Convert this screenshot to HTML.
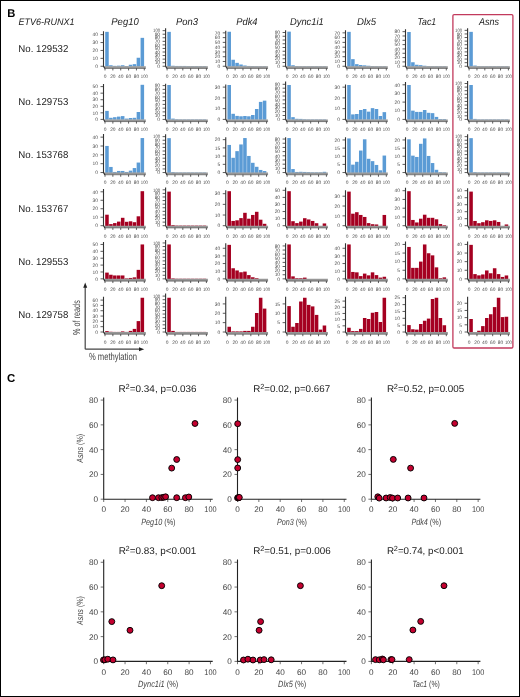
<!DOCTYPE html><html><head><meta charset="utf-8"><style>html,body{margin:0;padding:0;background:#fff;}svg{display:block;will-change:transform;}</style></head><body><svg width="520" height="697" viewBox="0 0 520 697" font-family="&quot;Liberation Sans&quot;, sans-serif" text-rendering="geometricPrecision">
<rect x="0" y="0" width="520" height="697" fill="#fff"/>
<rect x="0.5" y="0.5" width="519" height="696" fill="none" stroke="#000" stroke-width="1"/>
<text x="7.3" y="17" font-size="11.2" font-weight="bold" fill="#000">B</text>
<text x="18.6" y="25" font-size="9.3" font-style="italic" fill="#222" textLength="56" lengthAdjust="spacingAndGlyphs">ETV6-RUNX1</text>
<text x="111.3" y="25" font-size="10" font-style="italic" fill="#222" textLength="27.4" lengthAdjust="spacingAndGlyphs">Peg10</text>
<text x="176" y="25" font-size="10" font-style="italic" fill="#222" textLength="22" lengthAdjust="spacingAndGlyphs">Pon3</text>
<text x="236.3" y="25" font-size="10" font-style="italic" fill="#222" textLength="21.2" lengthAdjust="spacingAndGlyphs">Pdk4</text>
<text x="290" y="25" font-size="10" font-style="italic" fill="#222" textLength="33.7" lengthAdjust="spacingAndGlyphs">Dync1i1</text>
<text x="357" y="25" font-size="10" font-style="italic" fill="#222" textLength="19.2" lengthAdjust="spacingAndGlyphs">Dlx5</text>
<text x="417.5" y="25" font-size="10" font-style="italic" fill="#222" textLength="18.7" lengthAdjust="spacingAndGlyphs">Tac1</text>
<text x="479" y="25" font-size="10" font-style="italic" fill="#222" textLength="20" lengthAdjust="spacingAndGlyphs">Asns</text>
<text x="18.3" y="52.05" font-size="10" fill="#222" textLength="50" lengthAdjust="spacingAndGlyphs">No. 129532</text>
<text x="18.3" y="105.2" font-size="10" fill="#222" textLength="50" lengthAdjust="spacingAndGlyphs">No. 129753</text>
<text x="18.3" y="158.35" font-size="10" fill="#222" textLength="50" lengthAdjust="spacingAndGlyphs">No. 153768</text>
<text x="18.3" y="211.5" font-size="10" fill="#222" textLength="50" lengthAdjust="spacingAndGlyphs">No. 153767</text>
<text x="18.3" y="264.65" font-size="10" fill="#222" textLength="50" lengthAdjust="spacingAndGlyphs">No. 129553</text>
<text x="18.3" y="317.8" font-size="10" fill="#222" textLength="50" lengthAdjust="spacingAndGlyphs">No. 129758</text>
<g fill="#5b9bd5"><rect x="105.2" y="31.85" width="3.53" height="34.7"/><rect x="109.13" y="65.25" width="3.53" height="1.3"/><rect x="113.06" y="65.85" width="3.53" height="0.7"/><rect x="116.99" y="65.65" width="3.53" height="0.9"/><rect x="120.92" y="65.25" width="3.53" height="1.3"/><rect x="124.85" y="66" width="3.53" height="0.55"/><rect x="128.78" y="64.75" width="3.53" height="1.8"/><rect x="132.71" y="64.15" width="3.53" height="2.4"/><rect x="136.64" y="57.75" width="3.53" height="8.8"/><rect x="140.57" y="37.85" width="3.53" height="28.7"/></g>
<path d="M103.5 66.25L145.8 66.25L145.8 68.55L104.7 68.55Z" fill="#979797"/>
<path d="M104.7 68.45H145.8" stroke="#5e5e5e" stroke-width="0.7"/>
<path d="M103.5 31.25V66.25L104.9 68.55" fill="none" stroke="#333" stroke-width="1.1"/>
<path d="M100.5 66.25H103.5M100.5 58.35H103.5M100.5 50.45H103.5M100.5 42.55H103.5M100.5 34.65H103.5M105 68.35V70.45M112.86 68.35V70.45M120.72 68.35V70.45M128.58 68.35V70.45M136.44 68.35V70.45M144.3 68.35V70.45" stroke="#333" stroke-width="0.8"/>
<g font-size="4.9" fill="#4a4a4a" text-anchor="end" transform="scale(1.0 1)"><text x="98" y="67.95">0</text><text x="98" y="60.05">10</text><text x="98" y="52.15">20</text><text x="98" y="44.25">30</text><text x="98" y="36.35">40</text><text x="105" y="78.05" text-anchor="middle">0</text><text x="112.86" y="78.05" text-anchor="middle">20</text><text x="120.72" y="78.05" text-anchor="middle">40</text><text x="128.58" y="78.05" text-anchor="middle">60</text><text x="136.44" y="78.05" text-anchor="middle">80</text><text x="144.3" y="78.05" text-anchor="middle" textLength="7" lengthAdjust="spacingAndGlyphs">100</text></g>
<g fill="#5b9bd5"><rect x="167.3" y="31.85" width="3.53" height="34.7"/><rect x="171.23" y="65.75" width="3.53" height="0.8"/><rect x="175.16" y="65.95" width="3.53" height="0.6"/><rect x="179.09" y="65.95" width="3.53" height="0.6"/><rect x="183.02" y="65.95" width="3.53" height="0.6"/><rect x="186.95" y="66.05" width="3.53" height="0.5"/><rect x="190.88" y="66.05" width="3.53" height="0.5"/><rect x="194.81" y="66.05" width="3.53" height="0.5"/><rect x="198.74" y="66.05" width="3.53" height="0.5"/><rect x="202.67" y="66.05" width="3.53" height="0.5"/></g>
<path d="M165.6 66.25L207.9 66.25L207.9 68.55L166.8 68.55Z" fill="#979797"/>
<path d="M166.8 68.45H207.9" stroke="#5e5e5e" stroke-width="0.7"/>
<path d="M165.6 28.25V66.25L167 68.55" fill="none" stroke="#333" stroke-width="1.1"/>
<path d="M162.6 66.25H165.6M162.6 62.69H165.6M162.6 59.13H165.6M162.6 55.57H165.6M162.6 52.01H165.6M162.6 48.45H165.6M162.6 44.89H165.6M162.6 41.33H165.6M162.6 37.77H165.6M162.6 34.21H165.6M162.6 30.65H165.6M167.1 68.35V70.45M174.96 68.35V70.45M182.82 68.35V70.45M190.68 68.35V70.45M198.54 68.35V70.45M206.4 68.35V70.45" stroke="#333" stroke-width="0.8"/>
<g font-size="4.9" fill="#4a4a4a" text-anchor="end" transform="scale(1.0 1)"><text x="160.1" y="67.95">0</text><text x="160.1" y="64.39">10</text><text x="160.1" y="60.83">20</text><text x="160.1" y="57.27">30</text><text x="160.1" y="53.71">40</text><text x="160.1" y="50.15">50</text><text x="160.1" y="46.59">60</text><text x="160.1" y="43.03">70</text><text x="160.1" y="39.47">80</text><text x="160.1" y="35.91">90</text><text x="160.1" y="32.35" textLength="7" lengthAdjust="spacingAndGlyphs">100</text><text x="167.1" y="78.05" text-anchor="middle">0</text><text x="174.96" y="78.05" text-anchor="middle">20</text><text x="182.82" y="78.05" text-anchor="middle">40</text><text x="190.68" y="78.05" text-anchor="middle">60</text><text x="198.54" y="78.05" text-anchor="middle">80</text><text x="206.4" y="78.05" text-anchor="middle" textLength="7" lengthAdjust="spacingAndGlyphs">100</text></g>
<g fill="#5b9bd5"><rect x="227.45" y="31.75" width="3.53" height="34.8"/><rect x="231.38" y="59.75" width="3.53" height="6.8"/><rect x="235.31" y="62.85" width="3.53" height="3.7"/><rect x="239.24" y="64.5" width="3.53" height="2.05"/><rect x="243.17" y="65.5" width="3.53" height="1.05"/><rect x="247.1" y="65.95" width="3.53" height="0.6"/><rect x="251.03" y="66.05" width="3.53" height="0.5"/><rect x="254.96" y="66.15" width="3.53" height="0.4"/><rect x="258.89" y="66.15" width="3.53" height="0.4"/><rect x="262.82" y="66.15" width="3.53" height="0.4"/></g>
<path d="M225.75 66.25L268.05 66.25L268.05 68.55L226.95 68.55Z" fill="#979797"/>
<path d="M226.95 68.45H268.05" stroke="#5e5e5e" stroke-width="0.7"/>
<path d="M225.75 30.75V66.25L227.15 68.55" fill="none" stroke="#333" stroke-width="1.1"/>
<path d="M222.75 66.25H225.75M222.75 61.48H225.75M222.75 56.71H225.75M222.75 51.94H225.75M222.75 47.16H225.75M222.75 42.39H225.75M222.75 37.62H225.75M222.75 32.85H225.75M227.25 68.35V70.45M235.11 68.35V70.45M242.97 68.35V70.45M250.83 68.35V70.45M258.69 68.35V70.45M266.55 68.35V70.45" stroke="#333" stroke-width="0.8"/>
<g font-size="4.9" fill="#4a4a4a" text-anchor="end" transform="scale(1.0 1)"><text x="220.25" y="67.95">0</text><text x="220.25" y="63.18">10</text><text x="220.25" y="58.41">20</text><text x="220.25" y="53.64">30</text><text x="220.25" y="48.86">40</text><text x="220.25" y="44.09">50</text><text x="220.25" y="39.32">60</text><text x="220.25" y="34.55">70</text><text x="227.25" y="78.05" text-anchor="middle">0</text><text x="235.11" y="78.05" text-anchor="middle">20</text><text x="242.97" y="78.05" text-anchor="middle">40</text><text x="250.83" y="78.05" text-anchor="middle">60</text><text x="258.69" y="78.05" text-anchor="middle">80</text><text x="266.55" y="78.05" text-anchor="middle" textLength="7" lengthAdjust="spacingAndGlyphs">100</text></g>
<g fill="#5b9bd5"><rect x="287.3" y="31.65" width="3.53" height="34.9"/><rect x="291.23" y="65.25" width="3.53" height="1.3"/><rect x="295.16" y="66.05" width="3.53" height="0.5"/><rect x="299.09" y="66.15" width="3.53" height="0.4"/><rect x="303.02" y="66.15" width="3.53" height="0.4"/><rect x="306.95" y="66.15" width="3.53" height="0.4"/><rect x="310.88" y="66.15" width="3.53" height="0.4"/><rect x="314.81" y="66.15" width="3.53" height="0.4"/><rect x="318.74" y="66.15" width="3.53" height="0.4"/><rect x="322.67" y="66.15" width="3.53" height="0.4"/></g>
<path d="M285.6 66.25L327.9 66.25L327.9 68.55L286.8 68.55Z" fill="#979797"/>
<path d="M286.8 68.45H327.9" stroke="#5e5e5e" stroke-width="0.7"/>
<path d="M285.6 30.35V66.25L287 68.55" fill="none" stroke="#333" stroke-width="1.1"/>
<path d="M282.6 66.25H285.6M282.6 62.5H285.6M282.6 58.75H285.6M282.6 55H285.6M282.6 51.25H285.6M282.6 47.5H285.6M282.6 43.75H285.6M282.6 40H285.6M282.6 36.25H285.6M282.6 32.5H285.6M287.1 68.35V70.45M294.96 68.35V70.45M302.82 68.35V70.45M310.68 68.35V70.45M318.54 68.35V70.45M326.4 68.35V70.45" stroke="#333" stroke-width="0.8"/>
<g font-size="4.9" fill="#4a4a4a" text-anchor="end" transform="scale(1.0 1)"><text x="280.1" y="67.95">0</text><text x="280.1" y="64.2">10</text><text x="280.1" y="60.45">20</text><text x="280.1" y="56.7">30</text><text x="280.1" y="52.95">40</text><text x="280.1" y="49.2">50</text><text x="280.1" y="45.45">60</text><text x="280.1" y="41.7">70</text><text x="280.1" y="37.95">80</text><text x="280.1" y="34.2">90</text><text x="287.1" y="78.05" text-anchor="middle">0</text><text x="294.96" y="78.05" text-anchor="middle">20</text><text x="302.82" y="78.05" text-anchor="middle">40</text><text x="310.68" y="78.05" text-anchor="middle">60</text><text x="318.54" y="78.05" text-anchor="middle">80</text><text x="326.4" y="78.05" text-anchor="middle" textLength="7" lengthAdjust="spacingAndGlyphs">100</text></g>
<g fill="#5b9bd5"><rect x="347.2" y="31.85" width="3.53" height="34.7"/><rect x="351.13" y="59.15" width="3.53" height="7.4"/><rect x="355.06" y="64.15" width="3.53" height="2.4"/><rect x="358.99" y="65" width="3.53" height="1.55"/><rect x="362.92" y="65.35" width="3.53" height="1.2"/><rect x="366.85" y="65.75" width="3.53" height="0.8"/><rect x="370.78" y="66.05" width="3.53" height="0.5"/><rect x="374.71" y="66.15" width="3.53" height="0.4"/><rect x="378.64" y="66.15" width="3.53" height="0.4"/><rect x="382.57" y="66.15" width="3.53" height="0.4"/></g>
<path d="M345.5 66.25L387.8 66.25L387.8 68.55L346.7 68.55Z" fill="#979797"/>
<path d="M346.7 68.45H387.8" stroke="#5e5e5e" stroke-width="0.7"/>
<path d="M345.5 30.35V66.25L346.9 68.55" fill="none" stroke="#333" stroke-width="1.1"/>
<path d="M342.5 66.25H345.5M342.5 61.48H345.5M342.5 56.71H345.5M342.5 51.94H345.5M342.5 47.16H345.5M342.5 42.39H345.5M342.5 37.62H345.5M342.5 32.85H345.5M347 68.35V70.45M354.86 68.35V70.45M362.72 68.35V70.45M370.58 68.35V70.45M378.44 68.35V70.45M386.3 68.35V70.45" stroke="#333" stroke-width="0.8"/>
<g font-size="4.9" fill="#4a4a4a" text-anchor="end" transform="scale(1.0 1)"><text x="340" y="67.95">0</text><text x="340" y="63.18">10</text><text x="340" y="58.41">20</text><text x="340" y="53.64">30</text><text x="340" y="48.86">40</text><text x="340" y="44.09">50</text><text x="340" y="39.32">60</text><text x="340" y="34.55">70</text><text x="347" y="78.05" text-anchor="middle">0</text><text x="354.86" y="78.05" text-anchor="middle">20</text><text x="362.72" y="78.05" text-anchor="middle">40</text><text x="370.58" y="78.05" text-anchor="middle">60</text><text x="378.44" y="78.05" text-anchor="middle">80</text><text x="386.3" y="78.05" text-anchor="middle" textLength="7" lengthAdjust="spacingAndGlyphs">100</text></g>
<g fill="#5b9bd5"><rect x="407.2" y="32" width="3.53" height="34.55"/><rect x="411.13" y="62.25" width="3.53" height="4.3"/><rect x="415.06" y="64.75" width="3.53" height="1.8"/><rect x="418.99" y="65.15" width="3.53" height="1.4"/><rect x="422.92" y="65.75" width="3.53" height="0.8"/><rect x="426.85" y="66.05" width="3.53" height="0.5"/><rect x="430.78" y="66.15" width="3.53" height="0.4"/><rect x="434.71" y="66.15" width="3.53" height="0.4"/><rect x="438.64" y="66.15" width="3.53" height="0.4"/><rect x="442.57" y="66.15" width="3.53" height="0.4"/></g>
<path d="M405.5 66.25L447.8 66.25L447.8 68.55L406.7 68.55Z" fill="#979797"/>
<path d="M406.7 68.45H447.8" stroke="#5e5e5e" stroke-width="0.7"/>
<path d="M405.5 29.25V66.25L406.9 68.55" fill="none" stroke="#333" stroke-width="1.1"/>
<path d="M402.5 66.25H405.5M402.5 61.92H405.5M402.5 57.6H405.5M402.5 53.27H405.5M402.5 48.95H405.5M402.5 44.62H405.5M402.5 40.3H405.5M402.5 35.98H405.5M402.5 31.65H405.5M407 68.35V70.45M414.86 68.35V70.45M422.72 68.35V70.45M430.58 68.35V70.45M438.44 68.35V70.45M446.3 68.35V70.45" stroke="#333" stroke-width="0.8"/>
<g font-size="4.9" fill="#4a4a4a" text-anchor="end" transform="scale(1.0 1)"><text x="400" y="67.95">0</text><text x="400" y="63.62">10</text><text x="400" y="59.3">20</text><text x="400" y="54.98">30</text><text x="400" y="50.65">40</text><text x="400" y="46.33">50</text><text x="400" y="42">60</text><text x="400" y="37.68">70</text><text x="400" y="33.35">80</text><text x="407" y="78.05" text-anchor="middle">0</text><text x="414.86" y="78.05" text-anchor="middle">20</text><text x="422.72" y="78.05" text-anchor="middle">40</text><text x="430.58" y="78.05" text-anchor="middle">60</text><text x="438.44" y="78.05" text-anchor="middle">80</text><text x="446.3" y="78.05" text-anchor="middle" textLength="7" lengthAdjust="spacingAndGlyphs">100</text></g>
<g fill="#5b9bd5"><rect x="469.3" y="31.85" width="3.53" height="34.7"/><rect x="473.23" y="65.55" width="3.53" height="1"/><rect x="477.16" y="66.05" width="3.53" height="0.5"/><rect x="481.09" y="66.15" width="3.53" height="0.4"/><rect x="485.02" y="66.15" width="3.53" height="0.4"/><rect x="488.95" y="66.15" width="3.53" height="0.4"/><rect x="492.88" y="66.15" width="3.53" height="0.4"/><rect x="496.81" y="66.15" width="3.53" height="0.4"/><rect x="500.74" y="66.15" width="3.53" height="0.4"/><rect x="504.67" y="66.15" width="3.53" height="0.4"/></g>
<path d="M467.6 66.25L509.9 66.25L509.9 68.55L468.8 68.55Z" fill="#979797"/>
<path d="M468.8 68.45H509.9" stroke="#5e5e5e" stroke-width="0.7"/>
<path d="M467.6 28.25V66.25L469 68.55" fill="none" stroke="#333" stroke-width="1.1"/>
<path d="M464.6 66.25H467.6M464.6 62.66H467.6M464.6 59.07H467.6M464.6 55.48H467.6M464.6 51.89H467.6M464.6 48.3H467.6M464.6 44.71H467.6M464.6 41.12H467.6M464.6 37.53H467.6M464.6 33.94H467.6M464.6 30.35H467.6M469.1 68.35V70.45M476.96 68.35V70.45M484.82 68.35V70.45M492.68 68.35V70.45M500.54 68.35V70.45M508.4 68.35V70.45" stroke="#333" stroke-width="0.8"/>
<g font-size="4.9" fill="#4a4a4a" text-anchor="end" transform="scale(1.0 1)"><text x="462.1" y="67.95">0</text><text x="462.1" y="64.36">10</text><text x="462.1" y="60.77">20</text><text x="462.1" y="57.18">30</text><text x="462.1" y="53.59">40</text><text x="462.1" y="50">50</text><text x="462.1" y="46.41">60</text><text x="462.1" y="42.82">70</text><text x="462.1" y="39.23">80</text><text x="462.1" y="35.64">90</text><text x="462.1" y="32.05" textLength="7" lengthAdjust="spacingAndGlyphs">100</text><text x="469.1" y="78.05" text-anchor="middle">0</text><text x="476.96" y="78.05" text-anchor="middle">20</text><text x="484.82" y="78.05" text-anchor="middle">40</text><text x="492.68" y="78.05" text-anchor="middle">60</text><text x="500.54" y="78.05" text-anchor="middle">80</text><text x="508.4" y="78.05" text-anchor="middle" textLength="7" lengthAdjust="spacingAndGlyphs">100</text></g>
<g fill="#5b9bd5"><rect x="105.2" y="110.9" width="3.53" height="8.8"/><rect x="109.13" y="117.8" width="3.53" height="1.9"/><rect x="113.06" y="117.2" width="3.53" height="2.5"/><rect x="116.99" y="116.6" width="3.53" height="3.1"/><rect x="120.92" y="116.1" width="3.53" height="3.6"/><rect x="124.85" y="118.6" width="3.53" height="1.1"/><rect x="128.78" y="118" width="3.53" height="1.7"/><rect x="132.71" y="117.8" width="3.53" height="1.9"/><rect x="136.64" y="112" width="3.53" height="7.7"/><rect x="140.57" y="84.8" width="3.53" height="34.9"/></g>
<path d="M103.5 119.4L145.8 119.4L145.8 121.7L104.7 121.7Z" fill="#979797"/>
<path d="M104.7 121.6H145.8" stroke="#5e5e5e" stroke-width="0.7"/>
<path d="M103.5 84V119.4L104.9 121.7" fill="none" stroke="#333" stroke-width="1.1"/>
<path d="M100.5 119.4H103.5M100.5 112.84H103.5M100.5 106.28H103.5M100.5 99.72H103.5M100.5 93.16H103.5M100.5 86.6H103.5M105 121.5V123.6M112.86 121.5V123.6M120.72 121.5V123.6M128.58 121.5V123.6M136.44 121.5V123.6M144.3 121.5V123.6" stroke="#333" stroke-width="0.8"/>
<g font-size="4.9" fill="#4a4a4a" text-anchor="end" transform="scale(1.0 1)"><text x="98" y="121.1">0</text><text x="98" y="114.54">10</text><text x="98" y="107.98">20</text><text x="98" y="101.42">30</text><text x="98" y="94.86">40</text><text x="98" y="88.3">50</text><text x="105" y="131.2" text-anchor="middle">0</text><text x="112.86" y="131.2" text-anchor="middle">20</text><text x="120.72" y="131.2" text-anchor="middle">40</text><text x="128.58" y="131.2" text-anchor="middle">60</text><text x="136.44" y="131.2" text-anchor="middle">80</text><text x="144.3" y="131.2" text-anchor="middle" textLength="7" lengthAdjust="spacingAndGlyphs">100</text></g>
<g fill="#5b9bd5"><rect x="167.3" y="85" width="3.53" height="34.7"/><rect x="171.23" y="118.6" width="3.53" height="1.1"/><rect x="175.16" y="119.2" width="3.53" height="0.5"/><rect x="179.09" y="119.3" width="3.53" height="0.4"/><rect x="183.02" y="119.3" width="3.53" height="0.4"/><rect x="186.95" y="119.3" width="3.53" height="0.4"/><rect x="190.88" y="119.3" width="3.53" height="0.4"/><rect x="194.81" y="119.3" width="3.53" height="0.4"/><rect x="198.74" y="119.3" width="3.53" height="0.4"/><rect x="202.67" y="119.3" width="3.53" height="0.4"/></g>
<path d="M165.6 119.4L207.9 119.4L207.9 121.7L166.8 121.7Z" fill="#979797"/>
<path d="M166.8 121.6H207.9" stroke="#5e5e5e" stroke-width="0.7"/>
<path d="M165.6 83.8V119.4L167 121.7" fill="none" stroke="#333" stroke-width="1.1"/>
<path d="M162.6 119.4H165.6M162.6 115.64H165.6M162.6 111.89H165.6M162.6 108.13H165.6M162.6 104.38H165.6M162.6 100.62H165.6M162.6 96.87H165.6M162.6 93.11H165.6M162.6 89.36H165.6M162.6 85.6H165.6M167.1 121.5V123.6M174.96 121.5V123.6M182.82 121.5V123.6M190.68 121.5V123.6M198.54 121.5V123.6M206.4 121.5V123.6" stroke="#333" stroke-width="0.8"/>
<g font-size="4.9" fill="#4a4a4a" text-anchor="end" transform="scale(1.0 1)"><text x="160.1" y="121.1">0</text><text x="160.1" y="117.34">10</text><text x="160.1" y="113.59">20</text><text x="160.1" y="109.83">30</text><text x="160.1" y="106.08">40</text><text x="160.1" y="102.32">50</text><text x="160.1" y="98.57">60</text><text x="160.1" y="94.81">70</text><text x="160.1" y="91.06">80</text><text x="160.1" y="87.3">90</text><text x="167.1" y="131.2" text-anchor="middle">0</text><text x="174.96" y="131.2" text-anchor="middle">20</text><text x="182.82" y="131.2" text-anchor="middle">40</text><text x="190.68" y="131.2" text-anchor="middle">60</text><text x="198.54" y="131.2" text-anchor="middle">80</text><text x="206.4" y="131.2" text-anchor="middle" textLength="7" lengthAdjust="spacingAndGlyphs">100</text></g>
<g fill="#5b9bd5"><rect x="227.45" y="85" width="3.53" height="34.7"/><rect x="231.38" y="113.8" width="3.53" height="5.9"/><rect x="235.31" y="115.9" width="3.53" height="3.8"/><rect x="239.24" y="116.3" width="3.53" height="3.4"/><rect x="243.17" y="116" width="3.53" height="3.7"/><rect x="247.1" y="116.3" width="3.53" height="3.4"/><rect x="251.03" y="115" width="3.53" height="4.7"/><rect x="254.96" y="109" width="3.53" height="10.7"/><rect x="258.89" y="101.9" width="3.53" height="17.8"/><rect x="262.82" y="100.65" width="3.53" height="19.05"/></g>
<path d="M225.75 119.4L268.05 119.4L268.05 121.7L226.95 121.7Z" fill="#979797"/>
<path d="M226.95 121.6H268.05" stroke="#5e5e5e" stroke-width="0.7"/>
<path d="M225.75 84.4V119.4L227.15 121.7" fill="none" stroke="#333" stroke-width="1.1"/>
<path d="M222.75 119.4H225.75M222.75 108.63H225.75M222.75 97.87H225.75M222.75 87.1H225.75M227.25 121.5V123.6M235.11 121.5V123.6M242.97 121.5V123.6M250.83 121.5V123.6M258.69 121.5V123.6M266.55 121.5V123.6" stroke="#333" stroke-width="0.8"/>
<g font-size="4.9" fill="#4a4a4a" text-anchor="end" transform="scale(1.0 1)"><text x="220.25" y="121.1">0</text><text x="220.25" y="110.33">10</text><text x="220.25" y="99.57">20</text><text x="220.25" y="88.8">30</text><text x="227.25" y="131.2" text-anchor="middle">0</text><text x="235.11" y="131.2" text-anchor="middle">20</text><text x="242.97" y="131.2" text-anchor="middle">40</text><text x="250.83" y="131.2" text-anchor="middle">60</text><text x="258.69" y="131.2" text-anchor="middle">80</text><text x="266.55" y="131.2" text-anchor="middle" textLength="7" lengthAdjust="spacingAndGlyphs">100</text></g>
<g fill="#5b9bd5"><rect x="287.3" y="85" width="3.53" height="34.7"/><rect x="291.23" y="117.15" width="3.53" height="2.55"/><rect x="295.16" y="118.8" width="3.53" height="0.9"/><rect x="299.09" y="118.9" width="3.53" height="0.8"/><rect x="303.02" y="119.2" width="3.53" height="0.5"/><rect x="306.95" y="119.3" width="3.53" height="0.4"/><rect x="310.88" y="119.3" width="3.53" height="0.4"/><rect x="314.81" y="119.3" width="3.53" height="0.4"/><rect x="318.74" y="119.3" width="3.53" height="0.4"/><rect x="322.67" y="119.3" width="3.53" height="0.4"/></g>
<path d="M285.6 119.4L327.9 119.4L327.9 121.7L286.8 121.7Z" fill="#979797"/>
<path d="M286.8 121.6H327.9" stroke="#5e5e5e" stroke-width="0.7"/>
<path d="M285.6 81.5V119.4L287 121.7" fill="none" stroke="#333" stroke-width="1.1"/>
<path d="M282.6 119.4H285.6M282.6 115.5H285.6M282.6 111.6H285.6M282.6 107.7H285.6M282.6 103.8H285.6M282.6 99.9H285.6M282.6 96H285.6M282.6 92.1H285.6M282.6 88.2H285.6M282.6 84.3H285.6M287.1 121.5V123.6M294.96 121.5V123.6M302.82 121.5V123.6M310.68 121.5V123.6M318.54 121.5V123.6M326.4 121.5V123.6" stroke="#333" stroke-width="0.8"/>
<g font-size="4.9" fill="#4a4a4a" text-anchor="end" transform="scale(1.0 1)"><text x="280.1" y="121.1">0</text><text x="280.1" y="117.2">10</text><text x="280.1" y="113.3">20</text><text x="280.1" y="109.4">30</text><text x="280.1" y="105.5">40</text><text x="280.1" y="101.6">50</text><text x="280.1" y="97.7">60</text><text x="280.1" y="93.8">70</text><text x="280.1" y="89.9">80</text><text x="280.1" y="86">90</text><text x="287.1" y="131.2" text-anchor="middle">0</text><text x="294.96" y="131.2" text-anchor="middle">20</text><text x="302.82" y="131.2" text-anchor="middle">40</text><text x="310.68" y="131.2" text-anchor="middle">60</text><text x="318.54" y="131.2" text-anchor="middle">80</text><text x="326.4" y="131.2" text-anchor="middle" textLength="7" lengthAdjust="spacingAndGlyphs">100</text></g>
<g fill="#5b9bd5"><rect x="347.2" y="85" width="3.53" height="34.7"/><rect x="351.13" y="114.4" width="3.53" height="5.3"/><rect x="355.06" y="114" width="3.53" height="5.7"/><rect x="358.99" y="110" width="3.53" height="9.7"/><rect x="362.92" y="109" width="3.53" height="10.7"/><rect x="366.85" y="111.65" width="3.53" height="8.05"/><rect x="370.78" y="108.15" width="3.53" height="11.55"/><rect x="374.71" y="109" width="3.53" height="10.7"/><rect x="378.64" y="116" width="3.53" height="3.7"/><rect x="382.57" y="112.15" width="3.53" height="7.55"/></g>
<path d="M345.5 119.4L387.8 119.4L387.8 121.7L346.7 121.7Z" fill="#979797"/>
<path d="M346.7 121.6H387.8" stroke="#5e5e5e" stroke-width="0.7"/>
<path d="M345.5 84.4V119.4L346.9 121.7" fill="none" stroke="#333" stroke-width="1.1"/>
<path d="M342.5 119.4H345.5M342.5 108.65H345.5M342.5 97.9H345.5M342.5 87.15H345.5M347 121.5V123.6M354.86 121.5V123.6M362.72 121.5V123.6M370.58 121.5V123.6M378.44 121.5V123.6M386.3 121.5V123.6" stroke="#333" stroke-width="0.8"/>
<g font-size="4.9" fill="#4a4a4a" text-anchor="end" transform="scale(1.0 1)"><text x="340" y="121.1">0</text><text x="340" y="110.35">10</text><text x="340" y="99.6">20</text><text x="340" y="88.85">30</text><text x="347" y="131.2" text-anchor="middle">0</text><text x="354.86" y="131.2" text-anchor="middle">20</text><text x="362.72" y="131.2" text-anchor="middle">40</text><text x="370.58" y="131.2" text-anchor="middle">60</text><text x="378.44" y="131.2" text-anchor="middle">80</text><text x="386.3" y="131.2" text-anchor="middle" textLength="7" lengthAdjust="spacingAndGlyphs">100</text></g>
<g fill="#5b9bd5"><rect x="407.2" y="85" width="3.53" height="34.7"/><rect x="411.13" y="110.65" width="3.53" height="9.05"/><rect x="415.06" y="111.9" width="3.53" height="7.8"/><rect x="418.99" y="111.9" width="3.53" height="7.8"/><rect x="422.92" y="110" width="3.53" height="9.7"/><rect x="426.85" y="112.8" width="3.53" height="6.9"/><rect x="430.78" y="113.15" width="3.53" height="6.55"/><rect x="434.71" y="116.9" width="3.53" height="2.8"/><rect x="438.64" y="119" width="3.53" height="0.7"/><rect x="442.57" y="119" width="3.53" height="0.7"/></g>
<path d="M405.5 119.4L447.8 119.4L447.8 121.7L406.7 121.7Z" fill="#979797"/>
<path d="M406.7 121.6H447.8" stroke="#5e5e5e" stroke-width="0.7"/>
<path d="M405.5 81.9V119.4L406.9 121.7" fill="none" stroke="#333" stroke-width="1.1"/>
<path d="M402.5 119.4H405.5M402.5 110.75H405.5M402.5 102.1H405.5M402.5 93.45H405.5M402.5 84.8H405.5M407 121.5V123.6M414.86 121.5V123.6M422.72 121.5V123.6M430.58 121.5V123.6M438.44 121.5V123.6M446.3 121.5V123.6" stroke="#333" stroke-width="0.8"/>
<g font-size="4.9" fill="#4a4a4a" text-anchor="end" transform="scale(1.0 1)"><text x="400" y="121.1">0</text><text x="400" y="112.45">10</text><text x="400" y="103.8">20</text><text x="400" y="95.15">30</text><text x="400" y="86.5">40</text><text x="407" y="131.2" text-anchor="middle">0</text><text x="414.86" y="131.2" text-anchor="middle">20</text><text x="422.72" y="131.2" text-anchor="middle">40</text><text x="430.58" y="131.2" text-anchor="middle">60</text><text x="438.44" y="131.2" text-anchor="middle">80</text><text x="446.3" y="131.2" text-anchor="middle" textLength="7" lengthAdjust="spacingAndGlyphs">100</text></g>
<g fill="#5b9bd5"><rect x="469.3" y="85" width="3.53" height="34.7"/><rect x="473.23" y="118.9" width="3.53" height="0.8"/><rect x="477.16" y="119.3" width="3.53" height="0.4"/><rect x="481.09" y="119.3" width="3.53" height="0.4"/><rect x="485.02" y="119.3" width="3.53" height="0.4"/><rect x="488.95" y="119.3" width="3.53" height="0.4"/><rect x="492.88" y="119.3" width="3.53" height="0.4"/><rect x="496.81" y="119.3" width="3.53" height="0.4"/><rect x="500.74" y="119.3" width="3.53" height="0.4"/><rect x="504.67" y="119.3" width="3.53" height="0.4"/></g>
<path d="M467.6 119.4L509.9 119.4L509.9 121.7L468.8 121.7Z" fill="#979797"/>
<path d="M468.8 121.6H509.9" stroke="#5e5e5e" stroke-width="0.7"/>
<path d="M467.6 81V119.4L469 121.7" fill="none" stroke="#333" stroke-width="1.1"/>
<path d="M464.6 119.4H467.6M464.6 115.81H467.6M464.6 112.22H467.6M464.6 108.63H467.6M464.6 105.04H467.6M464.6 101.45H467.6M464.6 97.86H467.6M464.6 94.27H467.6M464.6 90.68H467.6M464.6 87.09H467.6M464.6 83.5H467.6M469.1 121.5V123.6M476.96 121.5V123.6M484.82 121.5V123.6M492.68 121.5V123.6M500.54 121.5V123.6M508.4 121.5V123.6" stroke="#333" stroke-width="0.8"/>
<g font-size="4.9" fill="#4a4a4a" text-anchor="end" transform="scale(1.0 1)"><text x="462.1" y="121.1">0</text><text x="462.1" y="117.51">10</text><text x="462.1" y="113.92">20</text><text x="462.1" y="110.33">30</text><text x="462.1" y="106.74">40</text><text x="462.1" y="103.15">50</text><text x="462.1" y="99.56">60</text><text x="462.1" y="95.97">70</text><text x="462.1" y="92.38">80</text><text x="462.1" y="88.79">90</text><text x="462.1" y="85.2" textLength="7" lengthAdjust="spacingAndGlyphs">100</text><text x="469.1" y="131.2" text-anchor="middle">0</text><text x="476.96" y="131.2" text-anchor="middle">20</text><text x="484.82" y="131.2" text-anchor="middle">40</text><text x="492.68" y="131.2" text-anchor="middle">60</text><text x="500.54" y="131.2" text-anchor="middle">80</text><text x="508.4" y="131.2" text-anchor="middle" textLength="7" lengthAdjust="spacingAndGlyphs">100</text></g>
<g fill="#5b9bd5"><rect x="105.2" y="145.95" width="3.53" height="26.9"/><rect x="109.13" y="166.95" width="3.53" height="5.9"/><rect x="113.06" y="171.95" width="3.53" height="0.9"/><rect x="116.99" y="170.95" width="3.53" height="1.9"/><rect x="120.92" y="170.95" width="3.53" height="1.9"/><rect x="124.85" y="171.95" width="3.53" height="0.9"/><rect x="128.78" y="170.65" width="3.53" height="2.2"/><rect x="132.71" y="168.05" width="3.53" height="4.8"/><rect x="136.64" y="162.55" width="3.53" height="10.3"/><rect x="140.57" y="138.05" width="3.53" height="34.8"/></g>
<path d="M103.5 172.55L145.8 172.55L145.8 174.85L104.7 174.85Z" fill="#979797"/>
<path d="M104.7 174.75H145.8" stroke="#5e5e5e" stroke-width="0.7"/>
<path d="M103.5 134.05V172.55L104.9 174.85" fill="none" stroke="#333" stroke-width="1.1"/>
<path d="M100.5 172.55H103.5M100.5 163.7H103.5M100.5 154.85H103.5M100.5 146H103.5M100.5 137.15H103.5M105 174.65V176.75M112.86 174.65V176.75M120.72 174.65V176.75M128.58 174.65V176.75M136.44 174.65V176.75M144.3 174.65V176.75" stroke="#333" stroke-width="0.8"/>
<g font-size="4.9" fill="#4a4a4a" text-anchor="end" transform="scale(1.0 1)"><text x="98" y="174.25">0</text><text x="98" y="165.4">10</text><text x="98" y="156.55">20</text><text x="98" y="147.7">30</text><text x="98" y="138.85">40</text><text x="105" y="184.35" text-anchor="middle">0</text><text x="112.86" y="184.35" text-anchor="middle">20</text><text x="120.72" y="184.35" text-anchor="middle">40</text><text x="128.58" y="184.35" text-anchor="middle">60</text><text x="136.44" y="184.35" text-anchor="middle">80</text><text x="144.3" y="184.35" text-anchor="middle" textLength="7" lengthAdjust="spacingAndGlyphs">100</text></g>
<g fill="#5b9bd5"><rect x="167.3" y="138.15" width="3.53" height="34.7"/><rect x="171.23" y="172.15" width="3.53" height="0.7"/><rect x="175.16" y="172.45" width="3.53" height="0.4"/><rect x="179.09" y="172.45" width="3.53" height="0.4"/><rect x="183.02" y="172.45" width="3.53" height="0.4"/><rect x="186.95" y="172.45" width="3.53" height="0.4"/><rect x="190.88" y="172.45" width="3.53" height="0.4"/><rect x="194.81" y="172.45" width="3.53" height="0.4"/><rect x="198.74" y="172.45" width="3.53" height="0.4"/><rect x="202.67" y="172.45" width="3.53" height="0.4"/></g>
<path d="M165.6 172.55L207.9 172.55L207.9 174.85L166.8 174.85Z" fill="#979797"/>
<path d="M166.8 174.75H207.9" stroke="#5e5e5e" stroke-width="0.7"/>
<path d="M165.6 134.3V172.55L167 174.85" fill="none" stroke="#333" stroke-width="1.1"/>
<path d="M162.6 172.55H165.6M162.6 168.96H165.6M162.6 165.37H165.6M162.6 161.78H165.6M162.6 158.19H165.6M162.6 154.6H165.6M162.6 151.01H165.6M162.6 147.42H165.6M162.6 143.83H165.6M162.6 140.24H165.6M162.6 136.65H165.6M167.1 174.65V176.75M174.96 174.65V176.75M182.82 174.65V176.75M190.68 174.65V176.75M198.54 174.65V176.75M206.4 174.65V176.75" stroke="#333" stroke-width="0.8"/>
<g font-size="4.9" fill="#4a4a4a" text-anchor="end" transform="scale(1.0 1)"><text x="160.1" y="174.25">0</text><text x="160.1" y="170.66">10</text><text x="160.1" y="167.07">20</text><text x="160.1" y="163.48">30</text><text x="160.1" y="159.89">40</text><text x="160.1" y="156.3">50</text><text x="160.1" y="152.71">60</text><text x="160.1" y="149.12">70</text><text x="160.1" y="145.53">80</text><text x="160.1" y="141.94">90</text><text x="160.1" y="138.35" textLength="7" lengthAdjust="spacingAndGlyphs">100</text><text x="167.1" y="184.35" text-anchor="middle">0</text><text x="174.96" y="184.35" text-anchor="middle">20</text><text x="182.82" y="184.35" text-anchor="middle">40</text><text x="190.68" y="184.35" text-anchor="middle">60</text><text x="198.54" y="184.35" text-anchor="middle">80</text><text x="206.4" y="184.35" text-anchor="middle" textLength="7" lengthAdjust="spacingAndGlyphs">100</text></g>
<g fill="#5b9bd5"><rect x="227.45" y="144.95" width="3.53" height="27.9"/><rect x="231.38" y="157.8" width="3.53" height="15.05"/><rect x="235.31" y="151.15" width="3.53" height="21.7"/><rect x="239.24" y="144.45" width="3.53" height="28.4"/><rect x="243.17" y="138.05" width="3.53" height="34.8"/><rect x="247.1" y="155.95" width="3.53" height="16.9"/><rect x="251.03" y="162.8" width="3.53" height="10.05"/><rect x="254.96" y="166.8" width="3.53" height="6.05"/><rect x="258.89" y="169.95" width="3.53" height="2.9"/><rect x="262.82" y="171.05" width="3.53" height="1.8"/></g>
<path d="M225.75 172.55L268.05 172.55L268.05 174.85L226.95 174.85Z" fill="#979797"/>
<path d="M226.95 174.75H268.05" stroke="#5e5e5e" stroke-width="0.7"/>
<path d="M225.75 137.15V172.55L227.15 174.85" fill="none" stroke="#333" stroke-width="1.1"/>
<path d="M222.75 172.55H225.75M222.75 164.33H225.75M222.75 156.1H225.75M222.75 147.88H225.75M222.75 139.65H225.75M227.25 174.65V176.75M235.11 174.65V176.75M242.97 174.65V176.75M250.83 174.65V176.75M258.69 174.65V176.75M266.55 174.65V176.75" stroke="#333" stroke-width="0.8"/>
<g font-size="4.9" fill="#4a4a4a" text-anchor="end" transform="scale(1.0 1)"><text x="220.25" y="174.25">0</text><text x="220.25" y="166.03">5</text><text x="220.25" y="157.8">10</text><text x="220.25" y="149.57">15</text><text x="220.25" y="141.35">20</text><text x="227.25" y="184.35" text-anchor="middle">0</text><text x="235.11" y="184.35" text-anchor="middle">20</text><text x="242.97" y="184.35" text-anchor="middle">40</text><text x="250.83" y="184.35" text-anchor="middle">60</text><text x="258.69" y="184.35" text-anchor="middle">80</text><text x="266.55" y="184.35" text-anchor="middle" textLength="7" lengthAdjust="spacingAndGlyphs">100</text></g>
<g fill="#5b9bd5"><rect x="287.3" y="138.05" width="3.53" height="34.8"/><rect x="291.23" y="169.05" width="3.53" height="3.8"/><rect x="295.16" y="171.95" width="3.53" height="0.9"/><rect x="299.09" y="171.8" width="3.53" height="1.05"/><rect x="303.02" y="171.95" width="3.53" height="0.9"/><rect x="306.95" y="172.15" width="3.53" height="0.7"/><rect x="310.88" y="172.3" width="3.53" height="0.55"/><rect x="314.81" y="172.3" width="3.53" height="0.55"/><rect x="318.74" y="172.3" width="3.53" height="0.55"/><rect x="322.67" y="171.8" width="3.53" height="1.05"/></g>
<path d="M285.6 172.55L327.9 172.55L327.9 174.85L286.8 174.85Z" fill="#979797"/>
<path d="M286.8 174.75H327.9" stroke="#5e5e5e" stroke-width="0.7"/>
<path d="M285.6 137.15V172.55L287 174.85" fill="none" stroke="#333" stroke-width="1.1"/>
<path d="M282.6 172.55H285.6M282.6 168.36H285.6M282.6 164.18H285.6M282.6 159.99H285.6M282.6 155.8H285.6M282.6 151.61H285.6M282.6 147.43H285.6M282.6 143.24H285.6M282.6 139.05H285.6M287.1 174.65V176.75M294.96 174.65V176.75M302.82 174.65V176.75M310.68 174.65V176.75M318.54 174.65V176.75M326.4 174.65V176.75" stroke="#333" stroke-width="0.8"/>
<g font-size="4.9" fill="#4a4a4a" text-anchor="end" transform="scale(1.0 1)"><text x="280.1" y="174.25">0</text><text x="280.1" y="170.06">10</text><text x="280.1" y="165.88">20</text><text x="280.1" y="161.69">30</text><text x="280.1" y="157.5">40</text><text x="280.1" y="153.31">50</text><text x="280.1" y="149.12">60</text><text x="280.1" y="144.94">70</text><text x="280.1" y="140.75">80</text><text x="287.1" y="184.35" text-anchor="middle">0</text><text x="294.96" y="184.35" text-anchor="middle">20</text><text x="302.82" y="184.35" text-anchor="middle">40</text><text x="310.68" y="184.35" text-anchor="middle">60</text><text x="318.54" y="184.35" text-anchor="middle">80</text><text x="326.4" y="184.35" text-anchor="middle" textLength="7" lengthAdjust="spacingAndGlyphs">100</text></g>
<g fill="#5b9bd5"><rect x="347.2" y="138.45" width="3.53" height="34.4"/><rect x="351.13" y="164.65" width="3.53" height="8.2"/><rect x="355.06" y="161.8" width="3.53" height="11.05"/><rect x="358.99" y="150.55" width="3.53" height="22.3"/><rect x="362.92" y="139.3" width="3.53" height="33.55"/><rect x="366.85" y="158.8" width="3.53" height="14.05"/><rect x="370.78" y="161.15" width="3.53" height="11.7"/><rect x="374.71" y="164.95" width="3.53" height="7.9"/><rect x="378.64" y="170.3" width="3.53" height="2.55"/><rect x="382.57" y="155.55" width="3.53" height="17.3"/></g>
<path d="M345.5 172.55L387.8 172.55L387.8 174.85L346.7 174.85Z" fill="#979797"/>
<path d="M346.7 174.75H387.8" stroke="#5e5e5e" stroke-width="0.7"/>
<path d="M345.5 137.15V172.55L346.9 174.85" fill="none" stroke="#333" stroke-width="1.1"/>
<path d="M342.5 172.55H345.5M342.5 164.4H345.5M342.5 156.25H345.5M342.5 148.1H345.5M342.5 139.95H345.5M347 174.65V176.75M354.86 174.65V176.75M362.72 174.65V176.75M370.58 174.65V176.75M378.44 174.65V176.75M386.3 174.65V176.75" stroke="#333" stroke-width="0.8"/>
<g font-size="4.9" fill="#4a4a4a" text-anchor="end" transform="scale(1.0 1)"><text x="340" y="174.25">0</text><text x="340" y="166.1">5</text><text x="340" y="157.95">10</text><text x="340" y="149.8">15</text><text x="340" y="141.65">20</text><text x="347" y="184.35" text-anchor="middle">0</text><text x="354.86" y="184.35" text-anchor="middle">20</text><text x="362.72" y="184.35" text-anchor="middle">40</text><text x="370.58" y="184.35" text-anchor="middle">60</text><text x="378.44" y="184.35" text-anchor="middle">80</text><text x="386.3" y="184.35" text-anchor="middle" textLength="7" lengthAdjust="spacingAndGlyphs">100</text></g>
<g fill="#5b9bd5"><rect x="407.2" y="139.3" width="3.53" height="33.55"/><rect x="411.13" y="155.65" width="3.53" height="17.2"/><rect x="415.06" y="156.95" width="3.53" height="15.9"/><rect x="418.99" y="143.8" width="3.53" height="29.05"/><rect x="422.92" y="138.45" width="3.53" height="34.4"/><rect x="426.85" y="155.95" width="3.53" height="16.9"/><rect x="430.78" y="163.05" width="3.53" height="9.8"/><rect x="434.71" y="169.8" width="3.53" height="3.05"/><rect x="438.64" y="172.15" width="3.53" height="0.7"/><rect x="442.57" y="172.3" width="3.53" height="0.55"/></g>
<path d="M405.5 172.55L447.8 172.55L447.8 174.85L406.7 174.85Z" fill="#979797"/>
<path d="M406.7 174.75H447.8" stroke="#5e5e5e" stroke-width="0.7"/>
<path d="M405.5 137.15V172.55L406.9 174.85" fill="none" stroke="#333" stroke-width="1.1"/>
<path d="M402.5 172.55H405.5M402.5 164.4H405.5M402.5 156.25H405.5M402.5 148.1H405.5M402.5 139.95H405.5M407 174.65V176.75M414.86 174.65V176.75M422.72 174.65V176.75M430.58 174.65V176.75M438.44 174.65V176.75M446.3 174.65V176.75" stroke="#333" stroke-width="0.8"/>
<g font-size="4.9" fill="#4a4a4a" text-anchor="end" transform="scale(1.0 1)"><text x="400" y="174.25">0</text><text x="400" y="166.1">5</text><text x="400" y="157.95">10</text><text x="400" y="149.8">15</text><text x="400" y="141.65">20</text><text x="407" y="184.35" text-anchor="middle">0</text><text x="414.86" y="184.35" text-anchor="middle">20</text><text x="422.72" y="184.35" text-anchor="middle">40</text><text x="430.58" y="184.35" text-anchor="middle">60</text><text x="438.44" y="184.35" text-anchor="middle">80</text><text x="446.3" y="184.35" text-anchor="middle" textLength="7" lengthAdjust="spacingAndGlyphs">100</text></g>
<g fill="#5b9bd5"><rect x="469.3" y="138.15" width="3.53" height="34.7"/><rect x="473.23" y="172.15" width="3.53" height="0.7"/><rect x="477.16" y="172.45" width="3.53" height="0.4"/><rect x="481.09" y="172.45" width="3.53" height="0.4"/><rect x="485.02" y="172.45" width="3.53" height="0.4"/><rect x="488.95" y="172.45" width="3.53" height="0.4"/><rect x="492.88" y="172.45" width="3.53" height="0.4"/><rect x="496.81" y="172.45" width="3.53" height="0.4"/><rect x="500.74" y="172.45" width="3.53" height="0.4"/><rect x="504.67" y="172.45" width="3.53" height="0.4"/></g>
<path d="M467.6 172.55L509.9 172.55L509.9 174.85L468.8 174.85Z" fill="#979797"/>
<path d="M468.8 174.75H509.9" stroke="#5e5e5e" stroke-width="0.7"/>
<path d="M467.6 134.3V172.55L469 174.85" fill="none" stroke="#333" stroke-width="1.1"/>
<path d="M464.6 172.55H467.6M464.6 168.96H467.6M464.6 165.37H467.6M464.6 161.78H467.6M464.6 158.19H467.6M464.6 154.6H467.6M464.6 151.01H467.6M464.6 147.42H467.6M464.6 143.83H467.6M464.6 140.24H467.6M464.6 136.65H467.6M469.1 174.65V176.75M476.96 174.65V176.75M484.82 174.65V176.75M492.68 174.65V176.75M500.54 174.65V176.75M508.4 174.65V176.75" stroke="#333" stroke-width="0.8"/>
<g font-size="4.9" fill="#4a4a4a" text-anchor="end" transform="scale(1.0 1)"><text x="462.1" y="174.25">0</text><text x="462.1" y="170.66">10</text><text x="462.1" y="167.07">20</text><text x="462.1" y="163.48">30</text><text x="462.1" y="159.89">40</text><text x="462.1" y="156.3">50</text><text x="462.1" y="152.71">60</text><text x="462.1" y="149.12">70</text><text x="462.1" y="145.53">80</text><text x="462.1" y="141.94">90</text><text x="462.1" y="138.35" textLength="7" lengthAdjust="spacingAndGlyphs">100</text><text x="469.1" y="184.35" text-anchor="middle">0</text><text x="476.96" y="184.35" text-anchor="middle">20</text><text x="484.82" y="184.35" text-anchor="middle">40</text><text x="492.68" y="184.35" text-anchor="middle">60</text><text x="500.54" y="184.35" text-anchor="middle">80</text><text x="508.4" y="184.35" text-anchor="middle" textLength="7" lengthAdjust="spacingAndGlyphs">100</text></g>
<g fill="#a50021"><rect x="105.2" y="214.7" width="3.53" height="11.3"/><rect x="109.13" y="224.1" width="3.53" height="1.9"/><rect x="113.06" y="223.1" width="3.53" height="2.9"/><rect x="116.99" y="221.6" width="3.53" height="4.4"/><rect x="120.92" y="217.8" width="3.53" height="8.2"/><rect x="124.85" y="221.8" width="3.53" height="4.2"/><rect x="128.78" y="221.3" width="3.53" height="4.7"/><rect x="132.71" y="222.2" width="3.53" height="3.8"/><rect x="136.64" y="216.3" width="3.53" height="9.7"/><rect x="140.57" y="191.2" width="3.53" height="34.8"/></g>
<path d="M103.5 225.7L145.8 225.7L145.8 228L104.7 228Z" fill="#979797"/>
<path d="M104.7 227.9H145.8" stroke="#5e5e5e" stroke-width="0.7"/>
<path d="M103.5 189.1V225.7L104.9 228" fill="none" stroke="#333" stroke-width="1.1"/>
<path d="M100.5 225.7H103.5M100.5 217.22H103.5M100.5 208.75H103.5M100.5 200.27H103.5M100.5 191.8H103.5M105 227.8V229.9M112.86 227.8V229.9M120.72 227.8V229.9M128.58 227.8V229.9M136.44 227.8V229.9M144.3 227.8V229.9" stroke="#333" stroke-width="0.8"/>
<g font-size="4.9" fill="#4a4a4a" text-anchor="end" transform="scale(1.0 1)"><text x="98" y="227.4">0</text><text x="98" y="218.92">10</text><text x="98" y="210.45">20</text><text x="98" y="201.97">30</text><text x="98" y="193.5">40</text><text x="105" y="237.5" text-anchor="middle">0</text><text x="112.86" y="237.5" text-anchor="middle">20</text><text x="120.72" y="237.5" text-anchor="middle">40</text><text x="128.58" y="237.5" text-anchor="middle">60</text><text x="136.44" y="237.5" text-anchor="middle">80</text><text x="144.3" y="237.5" text-anchor="middle" textLength="7" lengthAdjust="spacingAndGlyphs">100</text></g>
<g fill="#a50021"><rect x="167.3" y="191.6" width="3.53" height="34.4"/><rect x="171.23" y="225.2" width="3.53" height="0.8"/><rect x="175.16" y="225.6" width="3.53" height="0.4"/><rect x="179.09" y="225.6" width="3.53" height="0.4"/><rect x="183.02" y="225.6" width="3.53" height="0.4"/><rect x="186.95" y="225.6" width="3.53" height="0.4"/><rect x="190.88" y="225.6" width="3.53" height="0.4"/><rect x="194.81" y="225.6" width="3.53" height="0.4"/><rect x="198.74" y="225.6" width="3.53" height="0.4"/><rect x="202.67" y="225.6" width="3.53" height="0.4"/></g>
<path d="M165.6 225.7L207.9 225.7L207.9 228L166.8 228Z" fill="#979797"/>
<path d="M166.8 227.9H207.9" stroke="#5e5e5e" stroke-width="0.7"/>
<path d="M165.6 187.45V225.7L167 228" fill="none" stroke="#333" stroke-width="1.1"/>
<path d="M162.6 225.7H165.6M162.6 222.11H165.6M162.6 218.52H165.6M162.6 214.93H165.6M162.6 211.34H165.6M162.6 207.75H165.6M162.6 204.16H165.6M162.6 200.57H165.6M162.6 196.98H165.6M162.6 193.39H165.6M162.6 189.8H165.6M167.1 227.8V229.9M174.96 227.8V229.9M182.82 227.8V229.9M190.68 227.8V229.9M198.54 227.8V229.9M206.4 227.8V229.9" stroke="#333" stroke-width="0.8"/>
<g font-size="4.9" fill="#4a4a4a" text-anchor="end" transform="scale(1.0 1)"><text x="160.1" y="227.4">0</text><text x="160.1" y="223.81">10</text><text x="160.1" y="220.22">20</text><text x="160.1" y="216.63">30</text><text x="160.1" y="213.04">40</text><text x="160.1" y="209.45">50</text><text x="160.1" y="205.86">60</text><text x="160.1" y="202.27">70</text><text x="160.1" y="198.68">80</text><text x="160.1" y="195.09">90</text><text x="160.1" y="191.5" textLength="7" lengthAdjust="spacingAndGlyphs">100</text><text x="167.1" y="237.5" text-anchor="middle">0</text><text x="174.96" y="237.5" text-anchor="middle">20</text><text x="182.82" y="237.5" text-anchor="middle">40</text><text x="190.68" y="237.5" text-anchor="middle">60</text><text x="198.54" y="237.5" text-anchor="middle">80</text><text x="206.4" y="237.5" text-anchor="middle" textLength="7" lengthAdjust="spacingAndGlyphs">100</text></g>
<g fill="#a50021"><rect x="227.45" y="191.2" width="3.53" height="34.8"/><rect x="231.38" y="220.95" width="3.53" height="5.05"/><rect x="235.31" y="220.3" width="3.53" height="5.7"/><rect x="239.24" y="218.1" width="3.53" height="7.9"/><rect x="243.17" y="212.8" width="3.53" height="13.2"/><rect x="247.1" y="218.7" width="3.53" height="7.3"/><rect x="251.03" y="214.95" width="3.53" height="11.05"/><rect x="254.96" y="211.8" width="3.53" height="14.2"/><rect x="258.89" y="219.7" width="3.53" height="6.3"/><rect x="262.82" y="223.8" width="3.53" height="2.2"/></g>
<path d="M225.75 225.7L268.05 225.7L268.05 228L226.95 228Z" fill="#979797"/>
<path d="M226.95 227.9H268.05" stroke="#5e5e5e" stroke-width="0.7"/>
<path d="M225.75 190.3V225.7L227.15 228" fill="none" stroke="#333" stroke-width="1.1"/>
<path d="M222.75 225.7H225.75M222.75 215.03H225.75M222.75 204.37H225.75M222.75 193.7H225.75M227.25 227.8V229.9M235.11 227.8V229.9M242.97 227.8V229.9M250.83 227.8V229.9M258.69 227.8V229.9M266.55 227.8V229.9" stroke="#333" stroke-width="0.8"/>
<g font-size="4.9" fill="#4a4a4a" text-anchor="end" transform="scale(1.0 1)"><text x="220.25" y="227.4">0</text><text x="220.25" y="216.73">10</text><text x="220.25" y="206.07">20</text><text x="220.25" y="195.4">30</text><text x="227.25" y="237.5" text-anchor="middle">0</text><text x="235.11" y="237.5" text-anchor="middle">20</text><text x="242.97" y="237.5" text-anchor="middle">40</text><text x="250.83" y="237.5" text-anchor="middle">60</text><text x="258.69" y="237.5" text-anchor="middle">80</text><text x="266.55" y="237.5" text-anchor="middle" textLength="7" lengthAdjust="spacingAndGlyphs">100</text></g>
<g fill="#a50021"><rect x="287.3" y="191.2" width="3.53" height="34.8"/><rect x="291.23" y="221.2" width="3.53" height="4.8"/><rect x="295.16" y="223.1" width="3.53" height="2.9"/><rect x="299.09" y="221.6" width="3.53" height="4.4"/><rect x="303.02" y="218.2" width="3.53" height="7.8"/><rect x="306.95" y="219.45" width="3.53" height="6.55"/><rect x="310.88" y="220.95" width="3.53" height="5.05"/><rect x="314.81" y="223.2" width="3.53" height="2.8"/><rect x="322.67" y="223.45" width="3.53" height="2.55"/></g>
<path d="M285.6 225.7L327.9 225.7L327.9 228L286.8 228Z" fill="#979797"/>
<path d="M286.8 227.9H327.9" stroke="#5e5e5e" stroke-width="0.7"/>
<path d="M285.6 187.45V225.7L287 228" fill="none" stroke="#333" stroke-width="1.1"/>
<path d="M282.6 225.7H285.6M282.6 218.62H285.6M282.6 211.54H285.6M282.6 204.46H285.6M282.6 197.38H285.6M282.6 190.3H285.6M287.1 227.8V229.9M294.96 227.8V229.9M302.82 227.8V229.9M310.68 227.8V229.9M318.54 227.8V229.9M326.4 227.8V229.9" stroke="#333" stroke-width="0.8"/>
<g font-size="4.9" fill="#4a4a4a" text-anchor="end" transform="scale(1.0 1)"><text x="280.1" y="227.4">0</text><text x="280.1" y="220.32">10</text><text x="280.1" y="213.24">20</text><text x="280.1" y="206.16">30</text><text x="280.1" y="199.08">40</text><text x="280.1" y="192">50</text><text x="287.1" y="237.5" text-anchor="middle">0</text><text x="294.96" y="237.5" text-anchor="middle">20</text><text x="302.82" y="237.5" text-anchor="middle">40</text><text x="310.68" y="237.5" text-anchor="middle">60</text><text x="318.54" y="237.5" text-anchor="middle">80</text><text x="326.4" y="237.5" text-anchor="middle" textLength="7" lengthAdjust="spacingAndGlyphs">100</text></g>
<g fill="#a50021"><rect x="347.2" y="191.6" width="3.53" height="34.4"/><rect x="351.13" y="213.7" width="3.53" height="12.3"/><rect x="355.06" y="212.2" width="3.53" height="13.8"/><rect x="358.99" y="214.95" width="3.53" height="11.05"/><rect x="362.92" y="216.95" width="3.53" height="9.05"/><rect x="366.85" y="223.1" width="3.53" height="2.9"/><rect x="370.78" y="224.2" width="3.53" height="1.8"/><rect x="374.71" y="224.45" width="3.53" height="1.55"/><rect x="382.57" y="214.95" width="3.53" height="11.05"/></g>
<path d="M345.5 225.7L387.8 225.7L387.8 228L346.7 228Z" fill="#979797"/>
<path d="M346.7 227.9H387.8" stroke="#5e5e5e" stroke-width="0.7"/>
<path d="M345.5 190.3V225.7L346.9 228" fill="none" stroke="#333" stroke-width="1.1"/>
<path d="M342.5 225.7H345.5M342.5 215.87H345.5M342.5 206.03H345.5M342.5 196.2H345.5M347 227.8V229.9M354.86 227.8V229.9M362.72 227.8V229.9M370.58 227.8V229.9M378.44 227.8V229.9M386.3 227.8V229.9" stroke="#333" stroke-width="0.8"/>
<g font-size="4.9" fill="#4a4a4a" text-anchor="end" transform="scale(1.0 1)"><text x="340" y="227.4">0</text><text x="340" y="217.57">10</text><text x="340" y="207.73">20</text><text x="340" y="197.9">30</text><text x="347" y="237.5" text-anchor="middle">0</text><text x="354.86" y="237.5" text-anchor="middle">20</text><text x="362.72" y="237.5" text-anchor="middle">40</text><text x="370.58" y="237.5" text-anchor="middle">60</text><text x="378.44" y="237.5" text-anchor="middle">80</text><text x="386.3" y="237.5" text-anchor="middle" textLength="7" lengthAdjust="spacingAndGlyphs">100</text></g>
<g fill="#a50021"><rect x="407.2" y="191.2" width="3.53" height="34.8"/><rect x="411.13" y="219.95" width="3.53" height="6.05"/><rect x="415.06" y="222.45" width="3.53" height="3.55"/><rect x="418.99" y="218.7" width="3.53" height="7.3"/><rect x="422.92" y="214.7" width="3.53" height="11.3"/><rect x="426.85" y="217.8" width="3.53" height="8.2"/><rect x="430.78" y="217.8" width="3.53" height="8.2"/><rect x="434.71" y="219.3" width="3.53" height="6.7"/><rect x="438.64" y="224.1" width="3.53" height="1.9"/><rect x="442.57" y="225.3" width="3.53" height="0.7"/></g>
<path d="M405.5 225.7L447.8 225.7L447.8 228L406.7 228Z" fill="#979797"/>
<path d="M406.7 227.9H447.8" stroke="#5e5e5e" stroke-width="0.7"/>
<path d="M405.5 187.8V225.7L406.9 228" fill="none" stroke="#333" stroke-width="1.1"/>
<path d="M402.5 225.7H405.5M402.5 216.95H405.5M402.5 208.2H405.5M402.5 199.45H405.5M402.5 190.7H405.5M407 227.8V229.9M414.86 227.8V229.9M422.72 227.8V229.9M430.58 227.8V229.9M438.44 227.8V229.9M446.3 227.8V229.9" stroke="#333" stroke-width="0.8"/>
<g font-size="4.9" fill="#4a4a4a" text-anchor="end" transform="scale(1.0 1)"><text x="400" y="227.4">0</text><text x="400" y="218.65">10</text><text x="400" y="209.9">20</text><text x="400" y="201.15">30</text><text x="400" y="192.4">40</text><text x="407" y="237.5" text-anchor="middle">0</text><text x="414.86" y="237.5" text-anchor="middle">20</text><text x="422.72" y="237.5" text-anchor="middle">40</text><text x="430.58" y="237.5" text-anchor="middle">60</text><text x="438.44" y="237.5" text-anchor="middle">80</text><text x="446.3" y="237.5" text-anchor="middle" textLength="7" lengthAdjust="spacingAndGlyphs">100</text></g>
<g fill="#a50021"><rect x="469.3" y="191.6" width="3.53" height="34.4"/><rect x="473.23" y="220.95" width="3.53" height="5.05"/><rect x="477.16" y="223.2" width="3.53" height="2.8"/><rect x="481.09" y="222.2" width="3.53" height="3.8"/><rect x="485.02" y="220.3" width="3.53" height="5.7"/><rect x="488.95" y="220.95" width="3.53" height="5.05"/><rect x="492.88" y="220.3" width="3.53" height="5.7"/><rect x="496.81" y="221.95" width="3.53" height="4.05"/><rect x="504.67" y="224.45" width="3.53" height="1.55"/></g>
<path d="M467.6 225.7L509.9 225.7L509.9 228L468.8 228Z" fill="#979797"/>
<path d="M468.8 227.9H509.9" stroke="#5e5e5e" stroke-width="0.7"/>
<path d="M467.6 188.2V225.7L469 228" fill="none" stroke="#333" stroke-width="1.1"/>
<path d="M464.6 225.7H467.6M464.6 218.7H467.6M464.6 211.7H467.6M464.6 204.7H467.6M464.6 197.7H467.6M464.6 190.7H467.6M469.1 227.8V229.9M476.96 227.8V229.9M484.82 227.8V229.9M492.68 227.8V229.9M500.54 227.8V229.9M508.4 227.8V229.9" stroke="#333" stroke-width="0.8"/>
<g font-size="4.9" fill="#4a4a4a" text-anchor="end" transform="scale(1.0 1)"><text x="462.1" y="227.4">0</text><text x="462.1" y="220.4">10</text><text x="462.1" y="213.4">20</text><text x="462.1" y="206.4">30</text><text x="462.1" y="199.4">40</text><text x="462.1" y="192.4">50</text><text x="469.1" y="237.5" text-anchor="middle">0</text><text x="476.96" y="237.5" text-anchor="middle">20</text><text x="484.82" y="237.5" text-anchor="middle">40</text><text x="492.68" y="237.5" text-anchor="middle">60</text><text x="500.54" y="237.5" text-anchor="middle">80</text><text x="508.4" y="237.5" text-anchor="middle" textLength="7" lengthAdjust="spacingAndGlyphs">100</text></g>
<g fill="#a50021"><rect x="105.2" y="272.6" width="3.53" height="6.55"/><rect x="109.13" y="274.75" width="3.53" height="4.4"/><rect x="113.06" y="275.45" width="3.53" height="3.7"/><rect x="116.99" y="275.45" width="3.53" height="3.7"/><rect x="120.92" y="275.45" width="3.53" height="3.7"/><rect x="124.85" y="278.45" width="3.53" height="0.7"/><rect x="128.78" y="277.95" width="3.53" height="1.2"/><rect x="132.71" y="277.35" width="3.53" height="1.8"/><rect x="136.64" y="269.85" width="3.53" height="9.3"/><rect x="140.57" y="244.45" width="3.53" height="34.7"/></g>
<path d="M103.5 278.85L145.8 278.85L145.8 281.15L104.7 281.15Z" fill="#979797"/>
<path d="M104.7 281.05H145.8" stroke="#5e5e5e" stroke-width="0.7"/>
<path d="M103.5 241.95V278.85L104.9 281.15" fill="none" stroke="#333" stroke-width="1.1"/>
<path d="M100.5 278.85H103.5M100.5 271.97H103.5M100.5 265.09H103.5M100.5 258.21H103.5M100.5 251.33H103.5M100.5 244.45H103.5M105 280.95V283.05M112.86 280.95V283.05M120.72 280.95V283.05M128.58 280.95V283.05M136.44 280.95V283.05M144.3 280.95V283.05" stroke="#333" stroke-width="0.8"/>
<g font-size="4.9" fill="#4a4a4a" text-anchor="end" transform="scale(1.0 1)"><text x="98" y="280.55">0</text><text x="98" y="273.67">10</text><text x="98" y="266.79">20</text><text x="98" y="259.91">30</text><text x="98" y="253.03">40</text><text x="98" y="246.15">50</text><text x="105" y="290.65" text-anchor="middle">0</text><text x="112.86" y="290.65" text-anchor="middle">20</text><text x="120.72" y="290.65" text-anchor="middle">40</text><text x="128.58" y="290.65" text-anchor="middle">60</text><text x="136.44" y="290.65" text-anchor="middle">80</text><text x="144.3" y="290.65" text-anchor="middle" textLength="7" lengthAdjust="spacingAndGlyphs">100</text></g>
<g fill="#a50021"><rect x="167.3" y="244.45" width="3.53" height="34.7"/><rect x="171.23" y="278.45" width="3.53" height="0.7"/><rect x="175.16" y="278.75" width="3.53" height="0.4"/><rect x="179.09" y="278.75" width="3.53" height="0.4"/><rect x="183.02" y="278.75" width="3.53" height="0.4"/><rect x="186.95" y="278.75" width="3.53" height="0.4"/><rect x="190.88" y="278.75" width="3.53" height="0.4"/><rect x="194.81" y="278.75" width="3.53" height="0.4"/><rect x="198.74" y="278.75" width="3.53" height="0.4"/><rect x="202.67" y="278.75" width="3.53" height="0.4"/></g>
<path d="M165.6 278.85L207.9 278.85L207.9 281.15L166.8 281.15Z" fill="#979797"/>
<path d="M166.8 281.05H207.9" stroke="#5e5e5e" stroke-width="0.7"/>
<path d="M165.6 240.1V278.85L167 281.15" fill="none" stroke="#333" stroke-width="1.1"/>
<path d="M162.6 278.85H165.6M162.6 275.26H165.6M162.6 271.67H165.6M162.6 268.08H165.6M162.6 264.49H165.6M162.6 260.9H165.6M162.6 257.31H165.6M162.6 253.72H165.6M162.6 250.13H165.6M162.6 246.54H165.6M162.6 242.95H165.6M167.1 280.95V283.05M174.96 280.95V283.05M182.82 280.95V283.05M190.68 280.95V283.05M198.54 280.95V283.05M206.4 280.95V283.05" stroke="#333" stroke-width="0.8"/>
<g font-size="4.9" fill="#4a4a4a" text-anchor="end" transform="scale(1.0 1)"><text x="160.1" y="280.55">0</text><text x="160.1" y="276.96">10</text><text x="160.1" y="273.37">20</text><text x="160.1" y="269.78">30</text><text x="160.1" y="266.19">40</text><text x="160.1" y="262.6">50</text><text x="160.1" y="259.01">60</text><text x="160.1" y="255.42">70</text><text x="160.1" y="251.83">80</text><text x="160.1" y="248.24">90</text><text x="160.1" y="244.65" textLength="7" lengthAdjust="spacingAndGlyphs">100</text><text x="167.1" y="290.65" text-anchor="middle">0</text><text x="174.96" y="290.65" text-anchor="middle">20</text><text x="182.82" y="290.65" text-anchor="middle">40</text><text x="190.68" y="290.65" text-anchor="middle">60</text><text x="198.54" y="290.65" text-anchor="middle">80</text><text x="206.4" y="290.65" text-anchor="middle" textLength="7" lengthAdjust="spacingAndGlyphs">100</text></g>
<g fill="#a50021"><rect x="227.45" y="244.85" width="3.53" height="34.3"/><rect x="231.38" y="268.25" width="3.53" height="10.9"/><rect x="235.31" y="270.45" width="3.53" height="8.7"/><rect x="239.24" y="272.25" width="3.53" height="6.9"/><rect x="243.17" y="271.6" width="3.53" height="7.55"/><rect x="247.1" y="275.1" width="3.53" height="4.05"/><rect x="251.03" y="277.25" width="3.53" height="1.9"/><rect x="254.96" y="278.25" width="3.53" height="0.9"/></g>
<path d="M225.75 278.85L268.05 278.85L268.05 281.15L226.95 281.15Z" fill="#979797"/>
<path d="M226.95 281.05H268.05" stroke="#5e5e5e" stroke-width="0.7"/>
<path d="M225.75 243.25V278.85L227.15 281.15" fill="none" stroke="#333" stroke-width="1.1"/>
<path d="M222.75 278.85H225.75M222.75 271.2H225.75M222.75 263.55H225.75M222.75 255.9H225.75M222.75 248.25H225.75M227.25 280.95V283.05M235.11 280.95V283.05M242.97 280.95V283.05M250.83 280.95V283.05M258.69 280.95V283.05M266.55 280.95V283.05" stroke="#333" stroke-width="0.8"/>
<g font-size="4.9" fill="#4a4a4a" text-anchor="end" transform="scale(1.0 1)"><text x="220.25" y="280.55">0</text><text x="220.25" y="272.9">10</text><text x="220.25" y="265.25">20</text><text x="220.25" y="257.6">30</text><text x="220.25" y="249.95">40</text><text x="227.25" y="290.65" text-anchor="middle">0</text><text x="235.11" y="290.65" text-anchor="middle">20</text><text x="242.97" y="290.65" text-anchor="middle">40</text><text x="250.83" y="290.65" text-anchor="middle">60</text><text x="258.69" y="290.65" text-anchor="middle">80</text><text x="266.55" y="290.65" text-anchor="middle" textLength="7" lengthAdjust="spacingAndGlyphs">100</text></g>
<g fill="#a50021"><rect x="287.3" y="244.45" width="3.53" height="34.7"/><rect x="291.23" y="276.35" width="3.53" height="2.8"/><rect x="295.16" y="278.25" width="3.53" height="0.9"/><rect x="299.09" y="278.25" width="3.53" height="0.9"/><rect x="303.02" y="277.6" width="3.53" height="1.55"/></g>
<path d="M285.6 278.85L327.9 278.85L327.9 281.15L286.8 281.15Z" fill="#979797"/>
<path d="M286.8 281.05H327.9" stroke="#5e5e5e" stroke-width="0.7"/>
<path d="M285.6 243.25V278.85L287 281.15" fill="none" stroke="#333" stroke-width="1.1"/>
<path d="M282.6 278.85H285.6M282.6 274.74H285.6M282.6 270.62H285.6M282.6 266.51H285.6M282.6 262.4H285.6M282.6 258.29H285.6M282.6 254.18H285.6M282.6 250.06H285.6M282.6 245.95H285.6M287.1 280.95V283.05M294.96 280.95V283.05M302.82 280.95V283.05M310.68 280.95V283.05M318.54 280.95V283.05M326.4 280.95V283.05" stroke="#333" stroke-width="0.8"/>
<g font-size="4.9" fill="#4a4a4a" text-anchor="end" transform="scale(1.0 1)"><text x="280.1" y="280.55">0</text><text x="280.1" y="276.44">10</text><text x="280.1" y="272.32">20</text><text x="280.1" y="268.21">30</text><text x="280.1" y="264.1">40</text><text x="280.1" y="259.99">50</text><text x="280.1" y="255.88">60</text><text x="280.1" y="251.76">70</text><text x="280.1" y="247.65">80</text><text x="287.1" y="290.65" text-anchor="middle">0</text><text x="294.96" y="290.65" text-anchor="middle">20</text><text x="302.82" y="290.65" text-anchor="middle">40</text><text x="310.68" y="290.65" text-anchor="middle">60</text><text x="318.54" y="290.65" text-anchor="middle">80</text><text x="326.4" y="290.65" text-anchor="middle" textLength="7" lengthAdjust="spacingAndGlyphs">100</text></g>
<g fill="#a50021"><rect x="347.2" y="244.45" width="3.53" height="34.7"/><rect x="351.13" y="271.95" width="3.53" height="7.2"/><rect x="355.06" y="272.35" width="3.53" height="6.8"/><rect x="358.99" y="276.1" width="3.53" height="3.05"/><rect x="362.92" y="273.6" width="3.53" height="5.55"/><rect x="366.85" y="275.35" width="3.53" height="3.8"/><rect x="370.78" y="272.35" width="3.53" height="6.8"/><rect x="374.71" y="275.1" width="3.53" height="4.05"/><rect x="378.64" y="277.6" width="3.53" height="1.55"/><rect x="382.57" y="276.75" width="3.53" height="2.4"/></g>
<path d="M345.5 278.85L387.8 278.85L387.8 281.15L346.7 281.15Z" fill="#979797"/>
<path d="M346.7 281.05H387.8" stroke="#5e5e5e" stroke-width="0.7"/>
<path d="M345.5 243.25V278.85L346.9 281.15" fill="none" stroke="#333" stroke-width="1.1"/>
<path d="M342.5 278.85H345.5M342.5 271.2H345.5M342.5 263.55H345.5M342.5 255.9H345.5M342.5 248.25H345.5M347 280.95V283.05M354.86 280.95V283.05M362.72 280.95V283.05M370.58 280.95V283.05M378.44 280.95V283.05M386.3 280.95V283.05" stroke="#333" stroke-width="0.8"/>
<g font-size="4.9" fill="#4a4a4a" text-anchor="end" transform="scale(1.0 1)"><text x="340" y="280.55">0</text><text x="340" y="272.9">10</text><text x="340" y="265.25">20</text><text x="340" y="257.6">30</text><text x="340" y="249.95">40</text><text x="347" y="290.65" text-anchor="middle">0</text><text x="354.86" y="290.65" text-anchor="middle">20</text><text x="362.72" y="290.65" text-anchor="middle">40</text><text x="370.58" y="290.65" text-anchor="middle">60</text><text x="378.44" y="290.65" text-anchor="middle">80</text><text x="386.3" y="290.65" text-anchor="middle" textLength="7" lengthAdjust="spacingAndGlyphs">100</text></g>
<g fill="#a50021"><rect x="407.2" y="246.95" width="3.53" height="32.2"/><rect x="411.13" y="267.85" width="3.53" height="11.3"/><rect x="415.06" y="267.85" width="3.53" height="11.3"/><rect x="418.99" y="261.6" width="3.53" height="17.55"/><rect x="422.92" y="244.45" width="3.53" height="34.7"/><rect x="426.85" y="253.25" width="3.53" height="25.9"/><rect x="430.78" y="255.35" width="3.53" height="23.8"/><rect x="434.71" y="267.35" width="3.53" height="11.8"/><rect x="438.64" y="278.25" width="3.53" height="0.9"/><rect x="442.57" y="277.35" width="3.53" height="1.8"/></g>
<path d="M405.5 278.85L447.8 278.85L447.8 281.15L406.7 281.15Z" fill="#979797"/>
<path d="M406.7 281.05H447.8" stroke="#5e5e5e" stroke-width="0.7"/>
<path d="M405.5 241.6V278.85L406.9 281.15" fill="none" stroke="#333" stroke-width="1.1"/>
<path d="M402.5 278.85H405.5M402.5 270.25H405.5M402.5 261.65H405.5M402.5 253.05H405.5M402.5 244.45H405.5M407 280.95V283.05M414.86 280.95V283.05M422.72 280.95V283.05M430.58 280.95V283.05M438.44 280.95V283.05M446.3 280.95V283.05" stroke="#333" stroke-width="0.8"/>
<g font-size="4.9" fill="#4a4a4a" text-anchor="end" transform="scale(1.0 1)"><text x="400" y="280.55">0</text><text x="400" y="271.95">5</text><text x="400" y="263.35">10</text><text x="400" y="254.75">15</text><text x="400" y="246.15">20</text><text x="407" y="290.65" text-anchor="middle">0</text><text x="414.86" y="290.65" text-anchor="middle">20</text><text x="422.72" y="290.65" text-anchor="middle">40</text><text x="430.58" y="290.65" text-anchor="middle">60</text><text x="438.44" y="290.65" text-anchor="middle">80</text><text x="446.3" y="290.65" text-anchor="middle" textLength="7" lengthAdjust="spacingAndGlyphs">100</text></g>
<g fill="#a50021"><rect x="469.3" y="244.85" width="3.53" height="34.3"/><rect x="473.23" y="274.1" width="3.53" height="5.05"/><rect x="477.16" y="275.35" width="3.53" height="3.8"/><rect x="481.09" y="274.45" width="3.53" height="4.7"/><rect x="485.02" y="270.45" width="3.53" height="8.7"/><rect x="488.95" y="273.25" width="3.53" height="5.9"/><rect x="492.88" y="268.25" width="3.53" height="10.9"/><rect x="496.81" y="274.1" width="3.53" height="5.05"/><rect x="500.74" y="276.95" width="3.53" height="2.2"/><rect x="504.67" y="275.45" width="3.53" height="3.7"/></g>
<path d="M467.6 278.85L509.9 278.85L509.9 281.15L468.8 281.15Z" fill="#979797"/>
<path d="M468.8 281.05H509.9" stroke="#5e5e5e" stroke-width="0.7"/>
<path d="M467.6 241.6V278.85L469 281.15" fill="none" stroke="#333" stroke-width="1.1"/>
<path d="M464.6 278.85H467.6M464.6 270.25H467.6M464.6 261.65H467.6M464.6 253.05H467.6M464.6 244.45H467.6M469.1 280.95V283.05M476.96 280.95V283.05M484.82 280.95V283.05M492.68 280.95V283.05M500.54 280.95V283.05M508.4 280.95V283.05" stroke="#333" stroke-width="0.8"/>
<g font-size="4.9" fill="#4a4a4a" text-anchor="end" transform="scale(1.0 1)"><text x="462.1" y="280.55">0</text><text x="462.1" y="271.95">10</text><text x="462.1" y="263.35">20</text><text x="462.1" y="254.75">30</text><text x="462.1" y="246.15">40</text><text x="469.1" y="290.65" text-anchor="middle">0</text><text x="476.96" y="290.65" text-anchor="middle">20</text><text x="484.82" y="290.65" text-anchor="middle">40</text><text x="492.68" y="290.65" text-anchor="middle">60</text><text x="500.54" y="290.65" text-anchor="middle">80</text><text x="508.4" y="290.65" text-anchor="middle" textLength="7" lengthAdjust="spacingAndGlyphs">100</text></g>
<g fill="#a50021"><rect x="105.2" y="331.1" width="3.53" height="1.2"/><rect x="109.13" y="331.75" width="3.53" height="0.55"/><rect x="113.06" y="331.9" width="3.53" height="0.4"/><rect x="116.99" y="331.9" width="3.53" height="0.4"/><rect x="120.92" y="331.4" width="3.53" height="0.9"/><rect x="124.85" y="331.9" width="3.53" height="0.4"/><rect x="128.78" y="330.9" width="3.53" height="1.4"/><rect x="132.71" y="328.9" width="3.53" height="3.4"/><rect x="136.64" y="321.1" width="3.53" height="11.2"/><rect x="140.57" y="297.75" width="3.53" height="34.55"/></g>
<path d="M103.5 332L145.8 332L145.8 334.3L104.7 334.3Z" fill="#979797"/>
<path d="M104.7 334.2H145.8" stroke="#5e5e5e" stroke-width="0.7"/>
<path d="M103.5 296.75V332L104.9 334.3" fill="none" stroke="#333" stroke-width="1.1"/>
<path d="M100.5 332H103.5M100.5 326.68H103.5M100.5 321.37H103.5M100.5 316.05H103.5M100.5 310.73H103.5M100.5 305.42H103.5M100.5 300.1H103.5M105 334.1V336.2M112.86 334.1V336.2M120.72 334.1V336.2M128.58 334.1V336.2M136.44 334.1V336.2M144.3 334.1V336.2" stroke="#333" stroke-width="0.8"/>
<g font-size="4.9" fill="#4a4a4a" text-anchor="end" transform="scale(1.0 1)"><text x="98" y="333.7">0</text><text x="98" y="328.38">10</text><text x="98" y="323.07">20</text><text x="98" y="317.75">30</text><text x="98" y="312.43">40</text><text x="98" y="307.12">50</text><text x="98" y="301.8">60</text><text x="105" y="343.8" text-anchor="middle">0</text><text x="112.86" y="343.8" text-anchor="middle">20</text><text x="120.72" y="343.8" text-anchor="middle">40</text><text x="128.58" y="343.8" text-anchor="middle">60</text><text x="136.44" y="343.8" text-anchor="middle">80</text><text x="144.3" y="343.8" text-anchor="middle" textLength="7" lengthAdjust="spacingAndGlyphs">100</text></g>
<g fill="#a50021"><rect x="167.3" y="297.75" width="3.53" height="34.55"/><rect x="171.23" y="330.9" width="3.53" height="1.4"/><rect x="175.16" y="331.9" width="3.53" height="0.4"/><rect x="179.09" y="331.9" width="3.53" height="0.4"/><rect x="183.02" y="331.9" width="3.53" height="0.4"/><rect x="186.95" y="331.9" width="3.53" height="0.4"/><rect x="190.88" y="331.9" width="3.53" height="0.4"/><rect x="194.81" y="331.9" width="3.53" height="0.4"/><rect x="198.74" y="331.9" width="3.53" height="0.4"/><rect x="202.67" y="331.9" width="3.53" height="0.4"/></g>
<path d="M165.6 332L207.9 332L207.9 334.3L166.8 334.3Z" fill="#979797"/>
<path d="M166.8 334.2H207.9" stroke="#5e5e5e" stroke-width="0.7"/>
<path d="M165.6 293.5V332L167 334.3" fill="none" stroke="#333" stroke-width="1.1"/>
<path d="M162.6 332H165.6M162.6 328.41H165.6M162.6 324.82H165.6M162.6 321.23H165.6M162.6 317.64H165.6M162.6 314.05H165.6M162.6 310.46H165.6M162.6 306.87H165.6M162.6 303.28H165.6M162.6 299.69H165.6M162.6 296.1H165.6M167.1 334.1V336.2M174.96 334.1V336.2M182.82 334.1V336.2M190.68 334.1V336.2M198.54 334.1V336.2M206.4 334.1V336.2" stroke="#333" stroke-width="0.8"/>
<g font-size="4.9" fill="#4a4a4a" text-anchor="end" transform="scale(1.0 1)"><text x="160.1" y="333.7">0</text><text x="160.1" y="330.11">10</text><text x="160.1" y="326.52">20</text><text x="160.1" y="322.93">30</text><text x="160.1" y="319.34">40</text><text x="160.1" y="315.75">50</text><text x="160.1" y="312.16">60</text><text x="160.1" y="308.57">70</text><text x="160.1" y="304.98">80</text><text x="160.1" y="301.39">90</text><text x="160.1" y="297.8" textLength="7" lengthAdjust="spacingAndGlyphs">100</text><text x="167.1" y="343.8" text-anchor="middle">0</text><text x="174.96" y="343.8" text-anchor="middle">20</text><text x="182.82" y="343.8" text-anchor="middle">40</text><text x="190.68" y="343.8" text-anchor="middle">60</text><text x="198.54" y="343.8" text-anchor="middle">80</text><text x="206.4" y="343.8" text-anchor="middle" textLength="7" lengthAdjust="spacingAndGlyphs">100</text></g>
<g fill="#a50021"><rect x="227.45" y="326.75" width="3.53" height="5.55"/><rect x="231.38" y="331.4" width="3.53" height="0.9"/><rect x="235.31" y="331.4" width="3.53" height="0.9"/><rect x="239.24" y="331.4" width="3.53" height="0.9"/><rect x="243.17" y="330.9" width="3.53" height="1.4"/><rect x="247.1" y="330.9" width="3.53" height="1.4"/><rect x="251.03" y="326.75" width="3.53" height="5.55"/><rect x="254.96" y="313" width="3.53" height="19.3"/><rect x="258.89" y="297.75" width="3.53" height="34.55"/><rect x="262.82" y="308.6" width="3.53" height="23.7"/></g>
<path d="M225.75 332L268.05 332L268.05 334.3L226.95 334.3Z" fill="#979797"/>
<path d="M226.95 334.2H268.05" stroke="#5e5e5e" stroke-width="0.7"/>
<path d="M225.75 296.75V332L227.15 334.3" fill="none" stroke="#333" stroke-width="1.1"/>
<path d="M222.75 332H225.75M222.75 322.63H225.75M222.75 313.27H225.75M222.75 303.9H225.75M227.25 334.1V336.2M235.11 334.1V336.2M242.97 334.1V336.2M250.83 334.1V336.2M258.69 334.1V336.2M266.55 334.1V336.2" stroke="#333" stroke-width="0.8"/>
<g font-size="4.9" fill="#4a4a4a" text-anchor="end" transform="scale(1.0 1)"><text x="220.25" y="333.7">0</text><text x="220.25" y="324.33">10</text><text x="220.25" y="314.97">20</text><text x="220.25" y="305.6">30</text><text x="227.25" y="343.8" text-anchor="middle">0</text><text x="235.11" y="343.8" text-anchor="middle">20</text><text x="242.97" y="343.8" text-anchor="middle">40</text><text x="250.83" y="343.8" text-anchor="middle">60</text><text x="258.69" y="343.8" text-anchor="middle">80</text><text x="266.55" y="343.8" text-anchor="middle" textLength="7" lengthAdjust="spacingAndGlyphs">100</text></g>
<g fill="#a50021"><rect x="287.3" y="306.1" width="3.53" height="26.2"/><rect x="291.23" y="326.75" width="3.53" height="5.55"/><rect x="295.16" y="323" width="3.53" height="9.3"/><rect x="299.09" y="301.5" width="3.53" height="30.8"/><rect x="303.02" y="297.75" width="3.53" height="34.55"/><rect x="306.95" y="304.9" width="3.53" height="27.4"/><rect x="310.88" y="306.4" width="3.53" height="25.9"/><rect x="314.81" y="314.9" width="3.53" height="17.4"/><rect x="318.74" y="329.6" width="3.53" height="2.7"/><rect x="322.67" y="325.5" width="3.53" height="6.8"/></g>
<path d="M285.6 332L327.9 332L327.9 334.3L286.8 334.3Z" fill="#979797"/>
<path d="M286.8 334.2H327.9" stroke="#5e5e5e" stroke-width="0.7"/>
<path d="M285.6 296.75V332L287 334.3" fill="none" stroke="#333" stroke-width="1.1"/>
<path d="M282.6 332H285.6M282.6 322.63H285.6M282.6 313.27H285.6M282.6 303.9H285.6M287.1 334.1V336.2M294.96 334.1V336.2M302.82 334.1V336.2M310.68 334.1V336.2M318.54 334.1V336.2M326.4 334.1V336.2" stroke="#333" stroke-width="0.8"/>
<g font-size="4.9" fill="#4a4a4a" text-anchor="end" transform="scale(1.0 1)"><text x="280.1" y="333.7">0</text><text x="280.1" y="324.33">5</text><text x="280.1" y="314.97">10</text><text x="280.1" y="305.6">15</text><text x="287.1" y="343.8" text-anchor="middle">0</text><text x="294.96" y="343.8" text-anchor="middle">20</text><text x="302.82" y="343.8" text-anchor="middle">40</text><text x="310.68" y="343.8" text-anchor="middle">60</text><text x="318.54" y="343.8" text-anchor="middle">80</text><text x="326.4" y="343.8" text-anchor="middle" textLength="7" lengthAdjust="spacingAndGlyphs">100</text></g>
<g fill="#a50021"><rect x="347.2" y="327.75" width="3.53" height="4.55"/><rect x="351.13" y="331.1" width="3.53" height="1.2"/><rect x="355.06" y="331.1" width="3.53" height="1.2"/><rect x="358.99" y="328.9" width="3.53" height="3.4"/><rect x="362.92" y="318" width="3.53" height="14.3"/><rect x="366.85" y="319" width="3.53" height="13.3"/><rect x="370.78" y="312.75" width="3.53" height="19.55"/><rect x="374.71" y="312" width="3.53" height="20.3"/><rect x="378.64" y="322" width="3.53" height="10.3"/><rect x="382.57" y="297.75" width="3.53" height="34.55"/></g>
<path d="M345.5 332L387.8 332L387.8 334.3L346.7 334.3Z" fill="#979797"/>
<path d="M346.7 334.2H387.8" stroke="#5e5e5e" stroke-width="0.7"/>
<path d="M345.5 296.75V332L346.9 334.3" fill="none" stroke="#333" stroke-width="1.1"/>
<path d="M342.5 332H345.5M342.5 325.82H345.5M342.5 319.64H345.5M342.5 313.46H345.5M342.5 307.28H345.5M342.5 301.1H345.5M347 334.1V336.2M354.86 334.1V336.2M362.72 334.1V336.2M370.58 334.1V336.2M378.44 334.1V336.2M386.3 334.1V336.2" stroke="#333" stroke-width="0.8"/>
<g font-size="4.9" fill="#4a4a4a" text-anchor="end" transform="scale(1.0 1)"><text x="340" y="333.7">0</text><text x="340" y="327.52">5</text><text x="340" y="321.34">10</text><text x="340" y="315.16">15</text><text x="340" y="308.98">20</text><text x="340" y="302.8">25</text><text x="347" y="343.8" text-anchor="middle">0</text><text x="354.86" y="343.8" text-anchor="middle">20</text><text x="362.72" y="343.8" text-anchor="middle">40</text><text x="370.58" y="343.8" text-anchor="middle">60</text><text x="378.44" y="343.8" text-anchor="middle">80</text><text x="386.3" y="343.8" text-anchor="middle" textLength="7" lengthAdjust="spacingAndGlyphs">100</text></g>
<g fill="#a50021"><rect x="407.2" y="325.1" width="3.53" height="7.2"/><rect x="411.13" y="329.25" width="3.53" height="3.05"/><rect x="415.06" y="329.6" width="3.53" height="2.7"/><rect x="418.99" y="324" width="3.53" height="8.3"/><rect x="422.92" y="320.75" width="3.53" height="11.55"/><rect x="426.85" y="318.6" width="3.53" height="13.7"/><rect x="430.78" y="299" width="3.53" height="33.3"/><rect x="434.71" y="297.75" width="3.53" height="34.55"/><rect x="438.64" y="318" width="3.53" height="14.3"/><rect x="442.57" y="325.25" width="3.53" height="7.05"/></g>
<path d="M405.5 332L447.8 332L447.8 334.3L406.7 334.3Z" fill="#979797"/>
<path d="M406.7 334.2H447.8" stroke="#5e5e5e" stroke-width="0.7"/>
<path d="M405.5 294.9V332L406.9 334.3" fill="none" stroke="#333" stroke-width="1.1"/>
<path d="M402.5 332H405.5M402.5 325.15H405.5M402.5 318.3H405.5M402.5 311.45H405.5M402.5 304.6H405.5M402.5 297.75H405.5M407 334.1V336.2M414.86 334.1V336.2M422.72 334.1V336.2M430.58 334.1V336.2M438.44 334.1V336.2M446.3 334.1V336.2" stroke="#333" stroke-width="0.8"/>
<g font-size="4.9" fill="#4a4a4a" text-anchor="end" transform="scale(1.0 1)"><text x="400" y="333.7">0</text><text x="400" y="326.85">5</text><text x="400" y="320">10</text><text x="400" y="313.15">15</text><text x="400" y="306.3">20</text><text x="400" y="299.45">25</text><text x="407" y="343.8" text-anchor="middle">0</text><text x="414.86" y="343.8" text-anchor="middle">20</text><text x="422.72" y="343.8" text-anchor="middle">40</text><text x="430.58" y="343.8" text-anchor="middle">60</text><text x="438.44" y="343.8" text-anchor="middle">80</text><text x="446.3" y="343.8" text-anchor="middle" textLength="7" lengthAdjust="spacingAndGlyphs">100</text></g>
<g fill="#a50021"><rect x="469.3" y="319" width="3.53" height="13.3"/><rect x="477.16" y="330.75" width="3.53" height="1.55"/><rect x="481.09" y="326.1" width="3.53" height="6.2"/><rect x="485.02" y="318" width="3.53" height="14.3"/><rect x="488.95" y="314.25" width="3.53" height="18.05"/><rect x="492.88" y="307.1" width="3.53" height="25.2"/><rect x="496.81" y="297.75" width="3.53" height="34.55"/><rect x="500.74" y="317.1" width="3.53" height="15.2"/><rect x="504.67" y="316.75" width="3.53" height="15.55"/></g>
<path d="M467.6 332L509.9 332L509.9 334.3L468.8 334.3Z" fill="#979797"/>
<path d="M468.8 334.2H509.9" stroke="#5e5e5e" stroke-width="0.7"/>
<path d="M467.6 296.75V332L469 334.3" fill="none" stroke="#333" stroke-width="1.1"/>
<path d="M464.6 332H467.6M464.6 324.81H467.6M464.6 317.62H467.6M464.6 310.44H467.6M464.6 303.25H467.6M469.1 334.1V336.2M476.96 334.1V336.2M484.82 334.1V336.2M492.68 334.1V336.2M500.54 334.1V336.2M508.4 334.1V336.2" stroke="#333" stroke-width="0.8"/>
<g font-size="4.9" fill="#4a4a4a" text-anchor="end" transform="scale(1.0 1)"><text x="462.1" y="333.7">0</text><text x="462.1" y="326.51">5</text><text x="462.1" y="319.32">10</text><text x="462.1" y="312.14">15</text><text x="462.1" y="304.95">20</text><text x="469.1" y="343.8" text-anchor="middle">0</text><text x="476.96" y="343.8" text-anchor="middle">20</text><text x="484.82" y="343.8" text-anchor="middle">40</text><text x="492.68" y="343.8" text-anchor="middle">60</text><text x="500.54" y="343.8" text-anchor="middle">80</text><text x="508.4" y="343.8" text-anchor="middle" textLength="7" lengthAdjust="spacingAndGlyphs">100</text></g>
<rect x="452.9" y="14.6" width="60" height="333.4" rx="1.2" fill="none" stroke="#c23a5c" stroke-width="1.3"/>
<path d="M85.2 349.2V287M85.2 349.2H140" fill="none" stroke="#444" stroke-width="1.2"/>
<path d="M85.2 282.6L83.2 287.8L87.2 287.8Z" fill="#222"/>
<path d="M144.2 349.2L139 347.2L139 351.2Z" fill="#222"/>
<text transform="translate(79.9 335) rotate(-90)" font-size="10.2" fill="#444" textLength="34.8" lengthAdjust="spacingAndGlyphs">% of reads</text>
<text x="88.9" y="359.9" font-size="10.3" fill="#444" textLength="48" lengthAdjust="spacingAndGlyphs">% methylation</text>
<text x="6.9" y="382" font-size="11.4" font-weight="bold" fill="#000">C</text>
<path d="M103.7 397.4V499.2H212.7" fill="none" stroke="#222" stroke-width="1.1"/>
<path d="M100.7 499.2H103.7M100.7 474.42H103.7M100.7 449.64H103.7M100.7 424.86H103.7M100.7 400.08H103.7M103.7 499.2V502M125.05 499.2V502M146.4 499.2V502M167.75 499.2V502M189.1 499.2V502M210.45 499.2V502" stroke="#333" stroke-width="0.7"/>
<g font-size="8.2" fill="#444"><text x="98.1" y="502.1" text-anchor="end">0</text><text x="98.1" y="477.32" text-anchor="end">20</text><text x="98.1" y="452.54" text-anchor="end">40</text><text x="98.1" y="427.76" text-anchor="end">60</text><text x="98.1" y="402.98" text-anchor="end">80</text><text x="103.7" y="512.4" text-anchor="middle">0</text><text x="125.05" y="512.4" text-anchor="middle">20</text><text x="146.4" y="512.4" text-anchor="middle">40</text><text x="167.75" y="512.4" text-anchor="middle">60</text><text x="189.1" y="512.4" text-anchor="middle">80</text><text x="210.45" y="512.4" text-anchor="middle" textLength="12.3" lengthAdjust="spacingAndGlyphs">100</text></g>
<text x="118.6" y="392.4" font-size="9.8" fill="#222" textLength="78" lengthAdjust="spacingAndGlyphs">R<tspan font-size="7.4" dx="-0.2" dy="-3.4">2</tspan><tspan dy="3.4">=0.34, p=0.036</tspan></text>
<text x="141.25" y="525.2" font-size="9" fill="#444" textLength="34.25" lengthAdjust="spacingAndGlyphs"><tspan font-style="italic">Peg10</tspan> (%)</text>
<text transform="translate(83.2 462.7) rotate(-90)" font-size="9" fill="#444" textLength="28.9" lengthAdjust="spacingAndGlyphs"><tspan font-style="italic">Asns</tspan> (%)</text>
<g fill="#c4002f" stroke="#000" stroke-width="0.95"><circle cx="152.5" cy="497.7" r="2.95"/><circle cx="158.5" cy="497.7" r="2.95"/><circle cx="161.8" cy="497.6" r="2.95"/><circle cx="163.8" cy="497.3" r="2.95"/><circle cx="165.6" cy="496.8" r="2.95"/><circle cx="176.7" cy="497.7" r="2.95"/><circle cx="185.4" cy="497.7" r="2.95"/><circle cx="188.8" cy="497" r="2.95"/><circle cx="195" cy="423.5" r="2.95"/><circle cx="176.7" cy="459.5" r="2.95"/><circle cx="171.7" cy="468.1" r="2.95"/></g>
<path d="M237.5 397.4V499.2H346.5" fill="none" stroke="#222" stroke-width="1.1"/>
<path d="M234.5 499.2H237.5M234.5 474.42H237.5M234.5 449.64H237.5M234.5 424.86H237.5M234.5 400.08H237.5M237.5 499.2V502M258.85 499.2V502M280.2 499.2V502M301.55 499.2V502M322.9 499.2V502M344.25 499.2V502" stroke="#333" stroke-width="0.7"/>
<g font-size="8.2" fill="#444"><text x="231.9" y="502.1" text-anchor="end">0</text><text x="231.9" y="477.32" text-anchor="end">20</text><text x="231.9" y="452.54" text-anchor="end">40</text><text x="231.9" y="427.76" text-anchor="end">60</text><text x="231.9" y="402.98" text-anchor="end">80</text><text x="237.5" y="512.4" text-anchor="middle">0</text><text x="258.85" y="512.4" text-anchor="middle">20</text><text x="280.2" y="512.4" text-anchor="middle">40</text><text x="301.55" y="512.4" text-anchor="middle">60</text><text x="322.9" y="512.4" text-anchor="middle">80</text><text x="344.25" y="512.4" text-anchor="middle" textLength="12.3" lengthAdjust="spacingAndGlyphs">100</text></g>
<text x="253.3" y="392.4" font-size="9.8" fill="#222" textLength="76.8" lengthAdjust="spacingAndGlyphs">R<tspan font-size="7.4" dx="-0.2" dy="-3.4">2</tspan><tspan dy="3.4">=0.02, p=0.667</tspan></text>
<text x="277" y="525.2" font-size="9" fill="#444" textLength="30" lengthAdjust="spacingAndGlyphs"><tspan font-style="italic">Pon3</tspan> (%)</text>
<g fill="#c4002f" stroke="#000" stroke-width="0.95"><circle cx="237.6" cy="497.9" r="2.95"/><circle cx="238.2" cy="497.6" r="2.95"/><circle cx="238.8" cy="497.8" r="2.95"/><circle cx="239.3" cy="497.4" r="2.95"/><circle cx="237.7" cy="423.7" r="2.95"/><circle cx="237.7" cy="459.6" r="2.95"/><circle cx="237.7" cy="468" r="2.95"/></g>
<path d="M371.4 397.4V499.2H480.4" fill="none" stroke="#222" stroke-width="1.1"/>
<path d="M368.4 499.2H371.4M368.4 474.42H371.4M368.4 449.64H371.4M368.4 424.86H371.4M368.4 400.08H371.4M371.4 499.2V502M392.75 499.2V502M414.1 499.2V502M435.45 499.2V502M456.8 499.2V502M478.15 499.2V502" stroke="#333" stroke-width="0.7"/>
<g font-size="8.2" fill="#444"><text x="365.8" y="502.1" text-anchor="end">0</text><text x="365.8" y="477.32" text-anchor="end">20</text><text x="365.8" y="452.54" text-anchor="end">40</text><text x="365.8" y="427.76" text-anchor="end">60</text><text x="365.8" y="402.98" text-anchor="end">80</text><text x="371.4" y="512.4" text-anchor="middle">0</text><text x="392.75" y="512.4" text-anchor="middle">20</text><text x="414.1" y="512.4" text-anchor="middle">40</text><text x="435.45" y="512.4" text-anchor="middle">60</text><text x="456.8" y="512.4" text-anchor="middle">80</text><text x="478.15" y="512.4" text-anchor="middle" textLength="12.3" lengthAdjust="spacingAndGlyphs">100</text></g>
<text x="386.9" y="392.4" font-size="9.8" fill="#222" textLength="77.4" lengthAdjust="spacingAndGlyphs">R<tspan font-size="7.4" dx="-0.2" dy="-3.4">2</tspan><tspan dy="3.4">=0.52, p=0.005</tspan></text>
<text x="411.4" y="525.2" font-size="9" fill="#444" textLength="29.7" lengthAdjust="spacingAndGlyphs"><tspan font-style="italic">Pdk4</tspan> (%)</text>
<g fill="#c4002f" stroke="#000" stroke-width="0.95"><circle cx="377.8" cy="496.8" r="2.95"/><circle cx="379.2" cy="498.1" r="2.95"/><circle cx="386.1" cy="498" r="2.95"/><circle cx="390.2" cy="497.5" r="2.95"/><circle cx="392.5" cy="498.1" r="2.95"/><circle cx="397.7" cy="498" r="2.95"/><circle cx="408.1" cy="498" r="2.95"/><circle cx="424" cy="498" r="2.95"/><circle cx="454.7" cy="423.4" r="2.95"/><circle cx="393.3" cy="459.4" r="2.95"/><circle cx="410.6" cy="468.1" r="2.95"/></g>
<path d="M103.7 559.6V661.4H212.7" fill="none" stroke="#222" stroke-width="1.1"/>
<path d="M100.7 661.4H103.7M100.7 636.62H103.7M100.7 611.84H103.7M100.7 587.06H103.7M100.7 562.28H103.7M103.7 661.4V664.2M125.05 661.4V664.2M146.4 661.4V664.2M167.75 661.4V664.2M189.1 661.4V664.2M210.45 661.4V664.2" stroke="#333" stroke-width="0.7"/>
<g font-size="8.2" fill="#444"><text x="98.1" y="664.3" text-anchor="end">0</text><text x="98.1" y="639.52" text-anchor="end">20</text><text x="98.1" y="614.74" text-anchor="end">40</text><text x="98.1" y="589.96" text-anchor="end">60</text><text x="98.1" y="565.18" text-anchor="end">80</text><text x="103.7" y="674.6" text-anchor="middle">0</text><text x="125.05" y="674.6" text-anchor="middle">20</text><text x="146.4" y="674.6" text-anchor="middle">40</text><text x="167.75" y="674.6" text-anchor="middle">60</text><text x="189.1" y="674.6" text-anchor="middle">80</text><text x="210.45" y="674.6" text-anchor="middle" textLength="12.3" lengthAdjust="spacingAndGlyphs">100</text></g>
<text x="118.7" y="554.2" font-size="9.8" fill="#222" textLength="77.6" lengthAdjust="spacingAndGlyphs">R<tspan font-size="7.4" dx="-0.2" dy="-3.4">2</tspan><tspan dy="3.4">=0.83, p<0.001</tspan></text>
<text x="138" y="687.4" font-size="9" fill="#444" textLength="40.25" lengthAdjust="spacingAndGlyphs"><tspan font-style="italic">Dync1i1</tspan> (%)</text>
<text transform="translate(83.2 624.9) rotate(-90)" font-size="9" fill="#444" textLength="28.9" lengthAdjust="spacingAndGlyphs"><tspan font-style="italic">Asns</tspan> (%)</text>
<g fill="#c4002f" stroke="#000" stroke-width="0.95"><circle cx="103.5" cy="659.9" r="2.95"/><circle cx="104.9" cy="659.8" r="2.95"/><circle cx="107.8" cy="659.2" r="2.95"/><circle cx="113" cy="659.9" r="2.95"/><circle cx="161.7" cy="585.7" r="2.95"/><circle cx="111.8" cy="621.6" r="2.95"/><circle cx="130" cy="630.3" r="2.95"/></g>
<path d="M237.5 559.6V661.4H346.5" fill="none" stroke="#222" stroke-width="1.1"/>
<path d="M234.5 661.4H237.5M234.5 636.62H237.5M234.5 611.84H237.5M234.5 587.06H237.5M234.5 562.28H237.5M237.5 661.4V664.2M258.85 661.4V664.2M280.2 661.4V664.2M301.55 661.4V664.2M322.9 661.4V664.2M344.25 661.4V664.2" stroke="#333" stroke-width="0.7"/>
<g font-size="8.2" fill="#444"><text x="231.9" y="664.3" text-anchor="end">0</text><text x="231.9" y="639.52" text-anchor="end">20</text><text x="231.9" y="614.74" text-anchor="end">40</text><text x="231.9" y="589.96" text-anchor="end">60</text><text x="231.9" y="565.18" text-anchor="end">80</text><text x="237.5" y="674.6" text-anchor="middle">0</text><text x="258.85" y="674.6" text-anchor="middle">20</text><text x="280.2" y="674.6" text-anchor="middle">40</text><text x="301.55" y="674.6" text-anchor="middle">60</text><text x="322.9" y="674.6" text-anchor="middle">80</text><text x="344.25" y="674.6" text-anchor="middle" textLength="12.3" lengthAdjust="spacingAndGlyphs">100</text></g>
<text x="253.3" y="554.2" font-size="9.8" fill="#222" textLength="77.4" lengthAdjust="spacingAndGlyphs">R<tspan font-size="7.4" dx="-0.2" dy="-3.4">2</tspan><tspan dy="3.4">=0.51, p=0.006</tspan></text>
<text x="278.1" y="687.4" font-size="9" fill="#444" textLength="28.2" lengthAdjust="spacingAndGlyphs"><tspan font-style="italic">Dlx5</tspan> (%)</text>
<g fill="#c4002f" stroke="#000" stroke-width="0.95"><circle cx="243.5" cy="660" r="2.95"/><circle cx="247.9" cy="659.2" r="2.95"/><circle cx="253" cy="660" r="2.95"/><circle cx="260.2" cy="660" r="2.95"/><circle cx="264" cy="659.6" r="2.95"/><circle cx="271.2" cy="659.8" r="2.95"/><circle cx="300.4" cy="585.7" r="2.95"/><circle cx="260.6" cy="621.6" r="2.95"/><circle cx="259.1" cy="630.3" r="2.95"/></g>
<path d="M371.4 559.6V661.4H480.4" fill="none" stroke="#222" stroke-width="1.1"/>
<path d="M368.4 661.4H371.4M368.4 636.62H371.4M368.4 611.84H371.4M368.4 587.06H371.4M368.4 562.28H371.4M371.4 661.4V664.2M392.75 661.4V664.2M414.1 661.4V664.2M435.45 661.4V664.2M456.8 661.4V664.2M478.15 661.4V664.2" stroke="#333" stroke-width="0.7"/>
<g font-size="8.2" fill="#444"><text x="365.8" y="664.3" text-anchor="end">0</text><text x="365.8" y="639.52" text-anchor="end">20</text><text x="365.8" y="614.74" text-anchor="end">40</text><text x="365.8" y="589.96" text-anchor="end">60</text><text x="365.8" y="565.18" text-anchor="end">80</text><text x="371.4" y="674.6" text-anchor="middle">0</text><text x="392.75" y="674.6" text-anchor="middle">20</text><text x="414.1" y="674.6" text-anchor="middle">40</text><text x="435.45" y="674.6" text-anchor="middle">60</text><text x="456.8" y="674.6" text-anchor="middle">80</text><text x="478.15" y="674.6" text-anchor="middle" textLength="12.3" lengthAdjust="spacingAndGlyphs">100</text></g>
<text x="386.9" y="554.2" font-size="9.8" fill="#222" textLength="76.8" lengthAdjust="spacingAndGlyphs">R<tspan font-size="7.4" dx="-0.2" dy="-3.4">2</tspan><tspan dy="3.4">=0.74, p<0.001</tspan></text>
<text x="412.5" y="687.4" font-size="9" fill="#444" textLength="27.3" lengthAdjust="spacingAndGlyphs"><tspan font-style="italic">Tac1</tspan> (%)</text>
<g fill="#c4002f" stroke="#000" stroke-width="0.95"><circle cx="375.5" cy="659.6" r="2.95"/><circle cx="379.3" cy="659.8" r="2.95"/><circle cx="382.4" cy="659" r="2.95"/><circle cx="383.4" cy="659.8" r="2.95"/><circle cx="390.9" cy="659.6" r="2.95"/><circle cx="392" cy="659.6" r="2.95"/><circle cx="409.2" cy="659.6" r="2.95"/><circle cx="444" cy="585.7" r="2.95"/><circle cx="420.7" cy="621.4" r="2.95"/><circle cx="412.9" cy="630" r="2.95"/></g>
</svg></body></html>
